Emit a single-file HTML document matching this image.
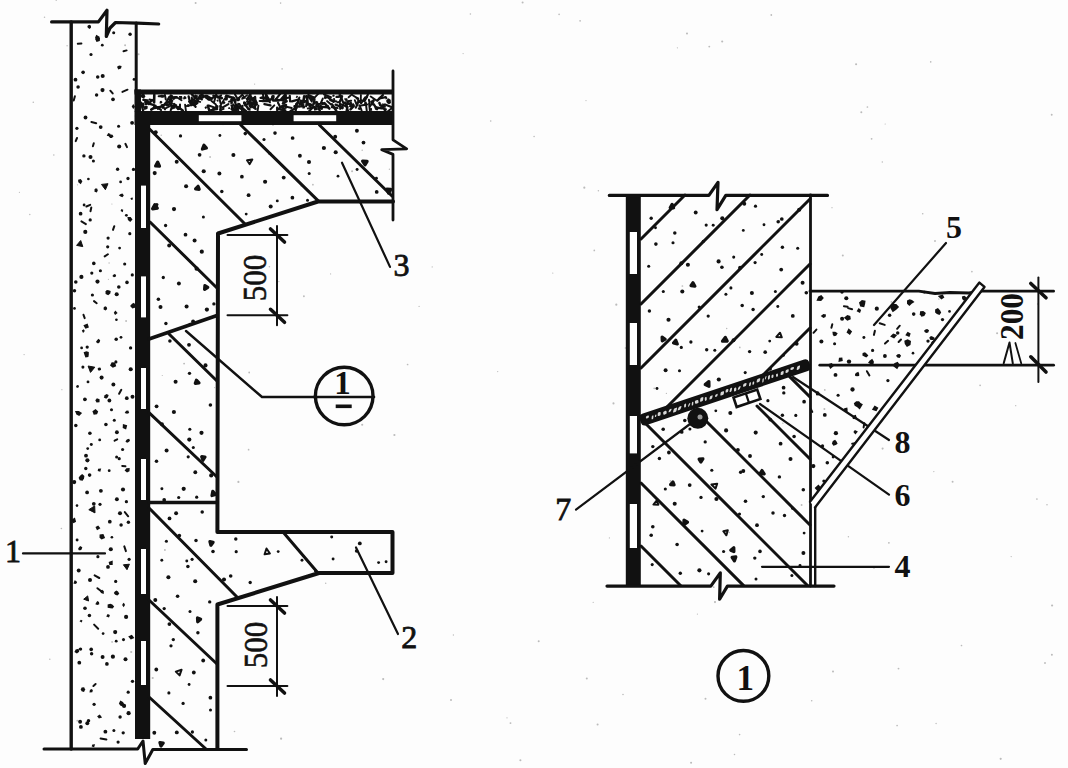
<!DOCTYPE html>
<html><head><meta charset="utf-8"><style>
html,body{margin:0;padding:0;background:#fff;}
svg{display:block;}
</style></head><body>
<svg width="1068" height="768" viewBox="0 0 1068 768">
<rect width="1068" height="768" fill="#fdfdfd"/>
<circle cx="345.9" cy="115.9" r="0.93" fill="#bbb"/>
<circle cx="77.4" cy="411.6" r="0.78" fill="#bbb"/>
<circle cx="61.9" cy="389.7" r="0.62" fill="#bbb"/>
<circle cx="463.1" cy="53.6" r="0.65" fill="#bbb"/>
<circle cx="453.4" cy="635.0" r="0.66" fill="#bbb"/>
<circle cx="238.4" cy="481.9" r="1.07" fill="#bbb"/>
<circle cx="616.3" cy="304.7" r="1.09" fill="#bbb"/>
<circle cx="49.8" cy="659.3" r="0.74" fill="#bbb"/>
<circle cx="154.1" cy="90.5" r="0.75" fill="#bbb"/>
<circle cx="871.6" cy="138.8" r="0.89" fill="#bbb"/>
<circle cx="682.4" cy="286.0" r="0.87" fill="#bbb"/>
<circle cx="67.1" cy="45.8" r="0.70" fill="#bbb"/>
<circle cx="726.7" cy="328.4" r="0.76" fill="#bbb"/>
<circle cx="625.4" cy="348.0" r="0.75" fill="#bbb"/>
<circle cx="848.4" cy="536.8" r="0.72" fill="#bbb"/>
<circle cx="613.5" cy="403.4" r="1.04" fill="#bbb"/>
<circle cx="779.0" cy="221.1" r="1.09" fill="#bbb"/>
<circle cx="126.1" cy="321.1" r="0.98" fill="#bbb"/>
<circle cx="162.3" cy="375.5" r="0.62" fill="#bbb"/>
<circle cx="713.7" cy="587.2" r="0.89" fill="#bbb"/>
<circle cx="935.0" cy="241.0" r="0.95" fill="#bbb"/>
<circle cx="634.8" cy="445.4" r="0.83" fill="#bbb"/>
<circle cx="897.1" cy="725.5" r="0.84" fill="#bbb"/>
<circle cx="709.3" cy="46.6" r="0.95" fill="#bbb"/>
<circle cx="691.1" cy="762.7" r="1.01" fill="#bbb"/>
<circle cx="303.9" cy="296.3" r="0.93" fill="#bbb"/>
<circle cx="24.1" cy="354.6" r="0.68" fill="#bbb"/>
<circle cx="125.1" cy="45.3" r="0.98" fill="#bbb"/>
<circle cx="138.1" cy="190.2" r="0.80" fill="#bbb"/>
<circle cx="930.7" cy="61.9" r="0.82" fill="#bbb"/>
<circle cx="586.8" cy="678.4" r="1.01" fill="#bbb"/>
<circle cx="922.7" cy="213.8" r="0.81" fill="#bbb"/>
<circle cx="383.2" cy="679.1" r="1.08" fill="#bbb"/>
<circle cx="161.2" cy="135.3" r="0.72" fill="#bbb"/>
<circle cx="249.2" cy="372.5" r="0.89" fill="#bbb"/>
<circle cx="280.6" cy="3.1" r="0.81" fill="#bbb"/>
<circle cx="394.4" cy="435.0" r="1.08" fill="#bbb"/>
<circle cx="737.4" cy="395.9" r="0.91" fill="#bbb"/>
<circle cx="722.2" cy="41.5" r="1.05" fill="#bbb"/>
<circle cx="833.0" cy="671.6" r="1.00" fill="#bbb"/>
<circle cx="419.1" cy="306.4" r="0.65" fill="#bbb"/>
<circle cx="677.4" cy="47.8" r="0.63" fill="#bbb"/>
<circle cx="223.0" cy="124.6" r="0.77" fill="#bbb"/>
<circle cx="56.2" cy="0.2" r="0.68" fill="#bbb"/>
<circle cx="108.4" cy="279.3" r="0.61" fill="#bbb"/>
<circle cx="933.8" cy="471.6" r="0.67" fill="#bbb"/>
<circle cx="269.4" cy="266.8" r="0.78" fill="#bbb"/>
<circle cx="131.2" cy="652.0" r="1.10" fill="#bbb"/>
<circle cx="497.7" cy="371.6" r="0.64" fill="#bbb"/>
<circle cx="109.1" cy="263.1" r="0.73" fill="#bbb"/>
<circle cx="885.2" cy="124.0" r="0.61" fill="#bbb"/>
<circle cx="1015.7" cy="405.7" r="0.67" fill="#bbb"/>
<circle cx="580.1" cy="20.8" r="0.86" fill="#bbb"/>
<circle cx="1045.0" cy="663.0" r="0.95" fill="#bbb"/>
<circle cx="278.9" cy="281.6" r="0.68" fill="#bbb"/>
<circle cx="824.4" cy="409.0" r="0.99" fill="#bbb"/>
<circle cx="352.1" cy="171.3" r="1.01" fill="#bbb"/>
<circle cx="1051.9" cy="654.8" r="1.00" fill="#bbb"/>
<circle cx="874.0" cy="568.2" r="0.71" fill="#bbb"/>
<circle cx="552.8" cy="273.1" r="0.61" fill="#bbb"/>
<circle cx="29.8" cy="214.6" r="0.73" fill="#bbb"/>
<circle cx="739.6" cy="734.6" r="0.82" fill="#bbb"/>
<circle cx="1000.7" cy="758.8" r="1.08" fill="#bbb"/>
<circle cx="389.4" cy="169.3" r="0.71" fill="#bbb"/>
<circle cx="210.1" cy="157.0" r="0.91" fill="#bbb"/>
<circle cx="961.5" cy="645.5" r="0.84" fill="#bbb"/>
<circle cx="697.4" cy="614.1" r="0.64" fill="#bbb"/>
<circle cx="705.5" cy="698.7" r="0.99" fill="#bbb"/>
<circle cx="801.2" cy="367.1" r="0.69" fill="#bbb"/>
<circle cx="842.8" cy="255.4" r="1.00" fill="#bbb"/>
<circle cx="1037.7" cy="304.0" r="0.80" fill="#bbb"/>
<circle cx="1011.2" cy="556.6" r="0.69" fill="#bbb"/>
<circle cx="135.7" cy="116.1" r="1.05" fill="#bbb"/>
<circle cx="861.3" cy="112.3" r="1.01" fill="#bbb"/>
<circle cx="1047.0" cy="504.8" r="0.78" fill="#bbb"/>
<circle cx="586.0" cy="100.6" r="0.61" fill="#bbb"/>
<circle cx="1036.9" cy="499.0" r="0.86" fill="#bbb"/>
<circle cx="997.1" cy="333.2" r="1.04" fill="#bbb"/>
<circle cx="882.3" cy="162.1" r="0.73" fill="#bbb"/>
<circle cx="312.9" cy="184.7" r="0.89" fill="#bbb"/>
<circle cx="277.0" cy="321.8" r="0.67" fill="#bbb"/>
<circle cx="971.9" cy="271.7" r="0.83" fill="#bbb"/>
<circle cx="623.0" cy="694.5" r="0.81" fill="#bbb"/>
<circle cx="980.1" cy="385.3" r="0.87" fill="#bbb"/>
<circle cx="559.1" cy="14.4" r="0.82" fill="#bbb"/>
<circle cx="195.6" cy="3.0" r="1.00" fill="#bbb"/>
<circle cx="184.1" cy="363.6" r="0.96" fill="#bbb"/>
<circle cx="594.3" cy="250.4" r="0.86" fill="#bbb"/>
<circle cx="593.2" cy="602.3" r="0.65" fill="#bbb"/>
<circle cx="598.4" cy="190.8" r="0.74" fill="#bbb"/>
<circle cx="824.8" cy="389.9" r="0.88" fill="#bbb"/>
<circle cx="811.7" cy="700.8" r="0.82" fill="#bbb"/>
<circle cx="654.2" cy="388.3" r="0.86" fill="#bbb"/>
<circle cx="739.8" cy="347.4" r="0.87" fill="#bbb"/>
<circle cx="510.5" cy="723.1" r="0.95" fill="#bbb"/>
<circle cx="936.1" cy="723.6" r="0.73" fill="#bbb"/>
<circle cx="597.6" cy="724.4" r="1.02" fill="#bbb"/>
<circle cx="146.5" cy="93.4" r="0.82" fill="#bbb"/>
<circle cx="77.5" cy="184.8" r="0.64" fill="#bbb"/>
<circle cx="715.0" cy="602.1" r="1.05" fill="#bbb"/>
<circle cx="164.9" cy="550.0" r="0.93" fill="#bbb"/>
<circle cx="152.7" cy="678.0" r="1.08" fill="#bbb"/>
<circle cx="234.5" cy="731.5" r="0.80" fill="#bbb"/>
<circle cx="520.4" cy="760.2" r="1.02" fill="#bbb"/>
<circle cx="172.4" cy="331.4" r="0.86" fill="#bbb"/>
<circle cx="362.2" cy="150.3" r="0.76" fill="#bbb"/>
<circle cx="771.3" cy="15.0" r="0.88" fill="#bbb"/>
<circle cx="470.4" cy="13.9" r="0.77" fill="#bbb"/>
<circle cx="666.4" cy="393.4" r="0.63" fill="#bbb"/>
<circle cx="1052.1" cy="605.5" r="1.09" fill="#bbb"/>
<circle cx="111.9" cy="204.0" r="0.62" fill="#bbb"/>
<circle cx="832.0" cy="207.7" r="0.66" fill="#bbb"/>
<circle cx="451.0" cy="700.0" r="1.01" fill="#bbb"/>
<circle cx="276.2" cy="114.7" r="1.06" fill="#bbb"/>
<circle cx="609.4" cy="537.9" r="0.64" fill="#bbb"/>
<circle cx="61.4" cy="528.5" r="0.81" fill="#bbb"/>
<circle cx="77.3" cy="720.7" r="0.92" fill="#bbb"/>
<circle cx="856.1" cy="64.3" r="1.03" fill="#bbb"/>
<circle cx="71.2" cy="662.6" r="0.83" fill="#bbb"/>
<circle cx="362.2" cy="424.8" r="1.06" fill="#bbb"/>
<circle cx="286.1" cy="99.2" r="0.86" fill="#bbb"/>
<circle cx="254.6" cy="84.1" r="0.68" fill="#bbb"/>
<circle cx="53.8" cy="155.0" r="0.76" fill="#bbb"/>
<circle cx="325.7" cy="583.3" r="0.74" fill="#bbb"/>
<circle cx="534.1" cy="136.6" r="0.77" fill="#bbb"/>
<circle cx="19.4" cy="192.3" r="0.61" fill="#bbb"/>
<circle cx="782.9" cy="423.2" r="0.69" fill="#bbb"/>
<circle cx="507.0" cy="717.8" r="0.65" fill="#bbb"/>
<circle cx="874.6" cy="331.9" r="0.85" fill="#bbb"/>
<circle cx="891.4" cy="301.9" r="0.85" fill="#bbb"/>
<circle cx="734.5" cy="754.5" r="0.77" fill="#bbb"/>
<circle cx="888.9" cy="542.8" r="0.92" fill="#bbb"/>
<circle cx="432.2" cy="266.9" r="0.63" fill="#bbb"/>
<circle cx="138.6" cy="54.3" r="0.97" fill="#bbb"/>
<circle cx="273.0" cy="125.4" r="0.64" fill="#bbb"/>
<circle cx="898.5" cy="668.6" r="0.94" fill="#bbb"/>
<circle cx="301.1" cy="186.0" r="0.75" fill="#bbb"/>
<circle cx="490.7" cy="121.0" r="0.82" fill="#bbb"/>
<circle cx="281.1" cy="738.7" r="1.09" fill="#bbb"/>
<circle cx="584.3" cy="187.7" r="1.08" fill="#bbb"/>
<circle cx="330.6" cy="273.9" r="0.60" fill="#bbb"/>
<circle cx="407.6" cy="364.5" r="0.85" fill="#bbb"/>
<circle cx="214.6" cy="387.6" r="0.60" fill="#bbb"/>
<circle cx="282.1" cy="68.9" r="0.80" fill="#bbb"/>
<circle cx="44.5" cy="17.3" r="0.75" fill="#bbb"/>
<circle cx="248.6" cy="449.7" r="0.86" fill="#bbb"/>
<circle cx="801.6" cy="505.0" r="0.96" fill="#bbb"/>
<circle cx="938.9" cy="299.1" r="0.76" fill="#bbb"/>
<circle cx="1051.7" cy="114.8" r="0.96" fill="#bbb"/>
<circle cx="687.0" cy="33.6" r="1.02" fill="#bbb"/>
<circle cx="952.6" cy="481.8" r="0.97" fill="#bbb"/>
<circle cx="867.4" cy="107.0" r="0.86" fill="#bbb"/>
<circle cx="538.7" cy="641.2" r="1.00" fill="#bbb"/>
<circle cx="882.6" cy="448.6" r="1.05" fill="#bbb"/>
<circle cx="729.3" cy="532.5" r="0.71" fill="#bbb"/>
<circle cx="33.3" cy="102.2" r="0.78" fill="#bbb"/>
<circle cx="112.1" cy="641.9" r="0.88" fill="#bbb"/>
<circle cx="670.5" cy="480.9" r="0.94" fill="#bbb"/>
<circle cx="522.6" cy="2.5" r="1.00" fill="#bbb"/>
<circle cx="799.1" cy="386.3" r="0.87" fill="#bbb"/>
<path d="M87.3,27.0 L87.8,25.5 L89.4,24.8 L91.0,25.8 L90.9,27.7 L89.6,28.9 L88.2,28.0 Z" fill="#111"/>
<circle cx="113.7" cy="32.8" r="1.52" fill="#111"/>
<circle cx="130.1" cy="34.3" r="1.71" fill="#111"/>
<line x1="81.4" y1="43.5" x2="77.8" y2="43.7" stroke="#111" stroke-width="2.0" stroke-linecap="round"/>
<path d="M100.0,38.1 L99.8,41.1 L96.5,42.0 L95.3,39.2 L95.2,37.3 L96.3,34.8 L98.7,36.2 Z" fill="#111"/>
<circle cx="102.3" cy="45.2" r="1.39" fill="#111"/>
<circle cx="91.0" cy="54.5" r="1.56" fill="#111"/>
<line x1="126.6" y1="50.4" x2="123.5" y2="51.2" stroke="#111" stroke-width="2.0" stroke-linecap="round"/>
<circle cx="83.1" cy="72.3" r="1.83" fill="#111"/>
<path d="M119.1,65.6 L121.6,65.9 L121.0,68.6 L118.3,69.5 L117.0,66.8 Z" fill="#111"/>
<circle cx="75.5" cy="79.7" r="1.89" fill="#111"/>
<circle cx="97.7" cy="77.1" r="1.75" fill="#111"/>
<circle cx="102.7" cy="76.0" r="2.02" fill="#111"/>
<circle cx="134.0" cy="79.4" r="1.37" fill="#111"/>
<circle cx="78.1" cy="87.1" r="1.76" fill="#111"/>
<circle cx="96.6" cy="95.0" r="1.72" fill="#111"/>
<circle cx="102.5" cy="90.1" r="2.07" fill="#111"/>
<line x1="110.3" y1="90.7" x2="112.7" y2="93.4" stroke="#111" stroke-width="2.0" stroke-linecap="round"/>
<line x1="127.5" y1="89.7" x2="122.4" y2="91.9" stroke="#111" stroke-width="2.0" stroke-linecap="round"/>
<line x1="74.9" y1="96.3" x2="73.7" y2="100.5" stroke="#111" stroke-width="2.0" stroke-linecap="round"/>
<circle cx="113.0" cy="99.3" r="1.85" fill="#111"/>
<path d="M135.0,106.7 L133.3,109.0 L131.7,106.6 L133.3,104.1 Z" fill="#111"/>
<circle cx="85.5" cy="117.5" r="1.91" fill="#111"/>
<circle cx="76.9" cy="128.3" r="1.63" fill="#111"/>
<line x1="91.4" y1="122.0" x2="96.2" y2="123.3" stroke="#111" stroke-width="2.0" stroke-linecap="round"/>
<circle cx="100.7" cy="127.1" r="1.86" fill="#111"/>
<circle cx="118.6" cy="126.3" r="1.53" fill="#111"/>
<circle cx="132.1" cy="122.8" r="1.91" fill="#111"/>
<line x1="77.0" y1="138.0" x2="75.7" y2="141.1" stroke="#111" stroke-width="2.0" stroke-linecap="round"/>
<line x1="93.8" y1="143.2" x2="92.9" y2="146.3" stroke="#111" stroke-width="2.0" stroke-linecap="round"/>
<path d="M109.9,136.6 L106.7,135.7 L108.3,132.9 L110.6,134.0 Z" fill="#111"/>
<path d="M113.5,136.5 L111.9,137.9 L110.1,138.0 L108.9,136.5 L109.5,134.9 L110.9,134.4 L112.5,134.7 Z" fill="#111"/>
<line x1="125.4" y1="143.8" x2="127.0" y2="147.1" stroke="#111" stroke-width="2.0" stroke-linecap="round"/>
<circle cx="83.9" cy="155.9" r="1.68" fill="#111"/>
<circle cx="90.5" cy="157.0" r="2.02" fill="#111"/>
<circle cx="119.2" cy="146.5" r="2.04" fill="#111"/>
<circle cx="93.4" cy="161.1" r="1.52" fill="#111"/>
<circle cx="117.6" cy="169.3" r="1.68" fill="#111"/>
<circle cx="133.5" cy="169.4" r="1.64" fill="#111"/>
<path d="M78.1,179.7 L80.7,178.9 L82.4,181.2 L80.8,184.2 L78.3,182.2 Z" fill="#111"/>
<circle cx="88.4" cy="179.0" r="1.33" fill="#111"/>
<circle cx="120.6" cy="181.9" r="1.38" fill="#111"/>
<circle cx="128.0" cy="178.5" r="1.63" fill="#111"/>
<path d="M94.5,191.7 L94.6,189.6 L95.7,188.3 L97.3,188.8 L97.7,190.4 L96.9,192.4 Z" fill="#111"/>
<path d="M105.4,189.7 L101.5,184.4 L108.0,183.7 Z" fill="#111" stroke="#111" stroke-width="1" stroke-linejoin="round"/>
<circle cx="84.1" cy="205.0" r="1.40" fill="#111"/>
<line x1="90.2" y1="204.8" x2="86.4" y2="206.5" stroke="#111" stroke-width="2.0" stroke-linecap="round"/>
<path d="M120.6,196.4 L118.8,195.2 L120.7,194.1 L122.5,193.4 L123.8,195.4 L122.4,197.3 Z" fill="#111"/>
<path d="M132.3,197.2 L133.0,199.2 L131.5,200.1 L130.3,198.5 Z" fill="#111"/>
<circle cx="80.6" cy="213.7" r="1.86" fill="#111"/>
<line x1="91.3" y1="207.5" x2="90.5" y2="211.3" stroke="#111" stroke-width="2.0" stroke-linecap="round"/>
<path d="M120.6,211.0 L121.4,209.1 L123.2,209.8 L122.8,212.2 Z" fill="#111"/>
<circle cx="126.4" cy="215.3" r="1.41" fill="#111"/>
<line x1="81.4" y1="221.4" x2="85.9" y2="224.1" stroke="#111" stroke-width="2.0" stroke-linecap="round"/>
<circle cx="90.2" cy="219.9" r="1.61" fill="#111"/>
<line x1="114.3" y1="226.2" x2="113.0" y2="229.9" stroke="#111" stroke-width="2.0" stroke-linecap="round"/>
<path d="M127.4,216.9 L130.6,216.9 L132.5,219.4 L130.2,222.0 L127.9,220.0 Z" fill="#111"/>
<circle cx="85.3" cy="231.9" r="2.08" fill="#111"/>
<circle cx="108.1" cy="238.1" r="1.61" fill="#111"/>
<circle cx="129.8" cy="233.7" r="1.59" fill="#111"/>
<path d="M76.6,245.4 L80.7,240.5 L82.8,246.6 Z" fill="#111" stroke="#111" stroke-width="1" stroke-linejoin="round"/>
<circle cx="107.7" cy="246.8" r="1.59" fill="#111"/>
<circle cx="119.6" cy="248.1" r="1.40" fill="#111"/>
<circle cx="93.8" cy="263.4" r="1.79" fill="#111"/>
<line x1="107.9" y1="254.2" x2="104.7" y2="256.4" stroke="#111" stroke-width="2.0" stroke-linecap="round"/>
<circle cx="124.7" cy="264.0" r="1.56" fill="#111"/>
<circle cx="81.4" cy="276.9" r="2.07" fill="#111"/>
<circle cx="91.8" cy="273.1" r="1.60" fill="#111"/>
<circle cx="100.4" cy="270.8" r="1.56" fill="#111"/>
<path d="M116.1,275.2 L115.7,276.8 L113.9,277.3 L112.4,276.0 L113.6,274.5 L115.0,273.9 Z" fill="#111"/>
<circle cx="132.3" cy="274.9" r="1.60" fill="#111"/>
<circle cx="75.8" cy="282.0" r="1.79" fill="#111"/>
<circle cx="97.5" cy="281.6" r="2.07" fill="#111"/>
<circle cx="118.8" cy="287.0" r="1.80" fill="#111"/>
<circle cx="127.0" cy="282.4" r="1.79" fill="#111"/>
<circle cx="74.5" cy="290.7" r="1.72" fill="#111"/>
<circle cx="92.4" cy="295.0" r="1.59" fill="#111"/>
<path d="M110.3,293.5 L108.2,295.2 L105.6,294.0 L105.5,291.5 L106.8,290.0 L108.6,290.2 L110.7,291.1 Z" fill="#111"/>
<circle cx="116.7" cy="294.2" r="2.05" fill="#111"/>
<circle cx="74.5" cy="308.4" r="1.35" fill="#111"/>
<line x1="94.0" y1="301.1" x2="96.7" y2="303.2" stroke="#111" stroke-width="2.0" stroke-linecap="round"/>
<path d="M107.2,308.9 L105.6,310.6 L103.6,309.4 L103.6,307.4 L105.1,306.2 L106.7,307.0 Z" fill="#111"/>
<path d="M115.1,315.0 L113.8,312.8 L115.4,310.6 L117.6,313.1 Z" fill="#111"/>
<path d="M132.4,308.4 L130.1,305.9 L132.0,303.8 L134.0,302.7 L135.3,304.7 L135.6,307.5 Z" fill="#111"/>
<line x1="83.5" y1="314.8" x2="84.7" y2="318.1" stroke="#111" stroke-width="2.0" stroke-linecap="round"/>
<circle cx="116.4" cy="319.7" r="1.32" fill="#111"/>
<path d="M84.8,330.9 L83.1,333.1 L81.8,330.4 L83.7,329.3 Z" fill="#111"/>
<path d="M88.9,327.6 L85.4,328.7 L83.4,325.2 L87.6,323.6 Z" fill="#111"/>
<circle cx="121.0" cy="337.3" r="1.39" fill="#111"/>
<circle cx="81.6" cy="347.9" r="1.38" fill="#111"/>
<circle cx="87.2" cy="347.1" r="1.64" fill="#111"/>
<path d="M98.5,338.8 L100.2,340.2 L99.7,342.2 L98.0,343.6 L95.9,342.1 L97.1,340.2 Z" fill="#111"/>
<circle cx="116.2" cy="339.2" r="1.75" fill="#111"/>
<circle cx="130.6" cy="347.9" r="1.65" fill="#111"/>
<path d="M83.6,352.2 L86.4,351.3 L88.8,352.1 L88.8,354.5 L88.4,357.1 L85.4,357.6 L84.5,354.9 Z" fill="#111"/>
<circle cx="115.9" cy="361.9" r="1.56" fill="#111"/>
<circle cx="82.9" cy="367.1" r="1.54" fill="#111"/>
<path d="M94.8,367.2 L90.5,372.4 L88.1,366.0 Z" fill="#111" stroke="#111" stroke-width="1" stroke-linejoin="round"/>
<path d="M97.5,368.8 L98.9,367.6 L100.6,367.8 L101.0,369.3 L100.1,370.6 L98.4,370.6 Z" fill="#111"/>
<path d="M112.8,367.8 L110.0,365.4 L111.7,362.3 L115.1,362.5 L116.2,366.2 Z" fill="#111"/>
<circle cx="130.7" cy="369.2" r="2.06" fill="#111"/>
<circle cx="88.0" cy="381.9" r="1.42" fill="#111"/>
<circle cx="101.6" cy="377.6" r="2.03" fill="#111"/>
<circle cx="113.4" cy="384.6" r="1.98" fill="#111"/>
<path d="M78.9,385.4 L78.9,387.3 L76.9,388.0 L76.0,386.2 L77.2,385.0 Z" fill="#111"/>
<path d="M106.2,398.8 L103.8,397.5 L104.8,395.2 L106.5,394.1 L108.7,395.1 L107.9,397.2 Z" fill="#111"/>
<line x1="121.3" y1="389.8" x2="119.1" y2="393.8" stroke="#111" stroke-width="2.0" stroke-linecap="round"/>
<circle cx="132.5" cy="396.7" r="1.97" fill="#111"/>
<circle cx="84.9" cy="399.3" r="1.87" fill="#111"/>
<path d="M96.9,398.2 L99.6,399.2 L99.5,402.3 L96.5,402.5 L95.3,400.2 Z" fill="#111"/>
<circle cx="109.4" cy="400.5" r="1.91" fill="#111"/>
<circle cx="111.5" cy="409.8" r="1.52" fill="#111"/>
<circle cx="126.8" cy="398.2" r="1.86" fill="#111"/>
<path d="M82.1,413.0 L79.2,415.9 L76.4,414.6 L75.0,411.1 L78.8,411.1 Z" fill="#111"/>
<path d="M93.7,414.8 L92.4,411.2 L95.6,408.9 L98.2,411.5 L97.0,414.3 Z" fill="#111"/>
<circle cx="114.3" cy="420.2" r="1.50" fill="#111"/>
<path d="M126.1,410.8 L128.3,410.6 L129.2,413.0 L127.1,413.7 L124.7,413.0 Z" fill="#111"/>
<circle cx="75.8" cy="425.6" r="1.75" fill="#111"/>
<circle cx="89.9" cy="433.3" r="1.77" fill="#111"/>
<circle cx="105.9" cy="424.5" r="1.79" fill="#111"/>
<circle cx="116.9" cy="432.3" r="1.93" fill="#111"/>
<path d="M122.9,424.0 L127.2,425.3 L126.1,429.6 L122.7,427.9 Z" fill="#111"/>
<circle cx="91.3" cy="444.6" r="1.49" fill="#111"/>
<circle cx="99.7" cy="439.9" r="1.42" fill="#111"/>
<line x1="117.2" y1="439.3" x2="114.6" y2="440.7" stroke="#111" stroke-width="2.0" stroke-linecap="round"/>
<path d="M130.0,440.7 L128.7,442.1 L127.2,442.7 L125.5,441.8 L126.3,440.1 L127.3,439.3 L129.2,438.8 Z" fill="#111"/>
<circle cx="86.0" cy="455.7" r="1.91" fill="#111"/>
<circle cx="87.7" cy="448.6" r="1.38" fill="#111"/>
<circle cx="116.6" cy="456.9" r="1.50" fill="#111"/>
<circle cx="122.6" cy="449.5" r="1.57" fill="#111"/>
<circle cx="85.8" cy="468.5" r="1.69" fill="#111"/>
<circle cx="87.4" cy="460.3" r="2.08" fill="#111"/>
<path d="M97.7,470.9 L98.1,468.7 L101.2,468.4 L100.3,471.7 Z" fill="#111"/>
<circle cx="119.2" cy="458.7" r="1.60" fill="#111"/>
<line x1="122.2" y1="465.9" x2="125.4" y2="466.3" stroke="#111" stroke-width="2.0" stroke-linecap="round"/>
<path d="M82.2,473.9 L84.4,475.9 L84.0,478.5 L82.6,480.8 L79.7,480.3 L78.6,477.7 L80.0,475.7 Z" fill="#111"/>
<circle cx="89.6" cy="475.1" r="1.81" fill="#111"/>
<circle cx="109.2" cy="470.7" r="1.40" fill="#111"/>
<path d="M124.6,470.6 L126.4,468.2 L129.7,467.9 L129.5,471.3 L127.0,472.4 Z" fill="#111"/>
<circle cx="74.2" cy="482.1" r="2.07" fill="#111"/>
<circle cx="87.1" cy="492.4" r="1.88" fill="#111"/>
<circle cx="100.9" cy="490.8" r="1.92" fill="#111"/>
<circle cx="123.0" cy="489.5" r="2.05" fill="#111"/>
<circle cx="77.0" cy="505.6" r="1.31" fill="#111"/>
<circle cx="93.8" cy="503.8" r="1.88" fill="#111"/>
<circle cx="100.0" cy="504.3" r="1.59" fill="#111"/>
<circle cx="116.9" cy="499.3" r="1.94" fill="#111"/>
<circle cx="126.4" cy="501.7" r="1.61" fill="#111"/>
<path d="M94.7,505.9 L95.0,512.9 L88.8,509.7 Z" fill="#111" stroke="#111" stroke-width="1" stroke-linejoin="round"/>
<circle cx="120.0" cy="513.2" r="2.01" fill="#111"/>
<line x1="124.8" y1="512.1" x2="128.2" y2="516.3" stroke="#111" stroke-width="2.0" stroke-linecap="round"/>
<path d="M73.5,523.2 L70.6,520.3 L74.9,517.6 L76.1,521.7 Z" fill="#111"/>
<path d="M95.5,527.0 L98.2,525.5 L100.4,528.3 L97.0,530.2 Z" fill="#111"/>
<circle cx="109.8" cy="521.7" r="1.87" fill="#111"/>
<circle cx="121.1" cy="525.0" r="1.73" fill="#111"/>
<circle cx="128.4" cy="522.3" r="1.72" fill="#111"/>
<circle cx="77.1" cy="540.0" r="1.46" fill="#111"/>
<path d="M105.1,538.0 L101.6,539.5 L99.5,537.7 L99.6,534.5 L103.4,534.1 Z" fill="#111"/>
<circle cx="111.9" cy="537.2" r="1.32" fill="#111"/>
<path d="M80.1,546.1 L82.3,547.2 L81.6,549.4 L80.4,550.3 L78.9,550.3 L78.1,549.0 L78.7,547.7 Z" fill="#111"/>
<circle cx="110.8" cy="549.2" r="2.07" fill="#111"/>
<line x1="124.3" y1="546.4" x2="125.9" y2="551.1" stroke="#111" stroke-width="2.0" stroke-linecap="round"/>
<circle cx="97.9" cy="556.7" r="1.58" fill="#111"/>
<path d="M112.7,565.0 L109.4,565.1 L108.6,562.0 L112.7,560.6 Z" fill="#111"/>
<circle cx="129.1" cy="559.3" r="1.60" fill="#111"/>
<circle cx="78.7" cy="570.5" r="1.95" fill="#111"/>
<line x1="94.6" y1="575.4" x2="99.3" y2="578.0" stroke="#111" stroke-width="2.0" stroke-linecap="round"/>
<circle cx="108.0" cy="566.9" r="1.90" fill="#111"/>
<path d="M127.0,569.7 L123.4,564.8 L129.4,564.2 Z" fill="#111" stroke="#111" stroke-width="1" stroke-linejoin="round"/>
<path d="M74.0,581.9 L74.6,580.2 L76.2,581.0 L77.1,582.2 L76.4,583.4 L75.2,584.0 L73.4,583.6 Z" fill="#111"/>
<circle cx="90.0" cy="580.0" r="2.02" fill="#111"/>
<line x1="97.4" y1="588.2" x2="101.3" y2="591.3" stroke="#111" stroke-width="2.0" stroke-linecap="round"/>
<circle cx="115.7" cy="581.4" r="1.59" fill="#111"/>
<path d="M87.7,595.9 L88.6,601.0 L83.7,599.2 Z" fill="#111" stroke="#111" stroke-width="1" stroke-linejoin="round"/>
<path d="M101.0,593.0 L100.0,590.9 L102.2,589.7 L103.9,591.2 L103.7,594.1 Z" fill="#111"/>
<path d="M116.4,590.6 L118.0,591.6 L119.3,593.7 L117.4,595.6 L115.2,594.7 L113.8,593.1 L114.9,591.5 Z" fill="#111"/>
<circle cx="85.0" cy="608.2" r="1.81" fill="#111"/>
<path d="M97.4,605.0 L95.3,604.3 L96.3,602.5 L97.3,601.0 L99.0,602.1 L99.3,604.2 Z" fill="#111"/>
<path d="M107.6,604.6 L110.4,603.8 L112.3,604.6 L114.2,606.4 L112.6,608.5 L110.4,608.2 L107.6,607.7 Z" fill="#111"/>
<path d="M123.6,607.2 L122.5,605.6 L122.4,604.2 L123.6,602.8 L124.9,604.2 L124.7,605.6 Z" fill="#111"/>
<path d="M80.9,619.7 L82.5,620.6 L81.6,622.6 L79.5,621.3 Z" fill="#111"/>
<circle cx="89.4" cy="615.5" r="1.77" fill="#111"/>
<path d="M109.9,615.1 L109.0,617.4 L106.2,616.6 L107.6,614.0 Z" fill="#111"/>
<circle cx="126.1" cy="616.9" r="2.08" fill="#111"/>
<line x1="94.1" y1="624.6" x2="98.2" y2="628.7" stroke="#111" stroke-width="2.0" stroke-linecap="round"/>
<circle cx="103.1" cy="633.6" r="1.36" fill="#111"/>
<circle cx="115.2" cy="632.1" r="2.08" fill="#111"/>
<path d="M134.4,637.9 L130.8,639.6 L128.2,636.5 L131.8,634.8 Z" fill="#111"/>
<circle cx="80.5" cy="649.1" r="1.72" fill="#111"/>
<circle cx="91.2" cy="649.4" r="1.82" fill="#111"/>
<circle cx="116.2" cy="641.2" r="1.42" fill="#111"/>
<circle cx="123.5" cy="639.6" r="1.53" fill="#111"/>
<path d="M75.7,649.4 L78.6,648.7 L79.2,651.8 L76.9,653.6 L74.4,651.9 Z" fill="#111"/>
<circle cx="91.6" cy="653.7" r="1.71" fill="#111"/>
<circle cx="102.6" cy="657.0" r="1.99" fill="#111"/>
<circle cx="112.9" cy="656.7" r="2.09" fill="#111"/>
<circle cx="125.5" cy="659.3" r="2.00" fill="#111"/>
<circle cx="79.3" cy="662.7" r="1.89" fill="#111"/>
<circle cx="106.9" cy="663.9" r="1.84" fill="#111"/>
<line x1="95.6" y1="684.0" x2="93.4" y2="686.0" stroke="#111" stroke-width="2.0" stroke-linecap="round"/>
<circle cx="132.5" cy="681.3" r="1.67" fill="#111"/>
<path d="M85.2,689.6 L84.0,692.1 L81.6,691.2 L80.8,689.4 L81.6,687.5 L84.1,687.3 Z" fill="#111"/>
<path d="M92.9,690.1 L92.3,692.2 L89.5,692.6 L89.9,690.0 L91.3,689.1 Z" fill="#111"/>
<circle cx="128.2" cy="692.2" r="1.59" fill="#111"/>
<circle cx="94.1" cy="704.3" r="1.62" fill="#111"/>
<path d="M120.3,700.5 L123.0,702.1 L124.3,704.3 L122.6,706.4 L120.2,705.5 L118.9,703.4 Z" fill="#111"/>
<circle cx="124.1" cy="705.9" r="2.05" fill="#111"/>
<circle cx="80.1" cy="721.7" r="1.95" fill="#111"/>
<circle cx="88.5" cy="720.7" r="1.75" fill="#111"/>
<path d="M99.8,714.6 L102.1,717.5 L98.9,718.5 L97.1,716.3 Z" fill="#111"/>
<circle cx="120.1" cy="717.0" r="1.70" fill="#111"/>
<circle cx="128.6" cy="713.2" r="2.10" fill="#111"/>
<circle cx="80.9" cy="726.9" r="1.91" fill="#111"/>
<circle cx="87.3" cy="723.2" r="1.96" fill="#111"/>
<circle cx="105.4" cy="731.7" r="1.92" fill="#111"/>
<circle cx="113.9" cy="730.6" r="1.51" fill="#111"/>
<circle cx="123.2" cy="732.8" r="1.66" fill="#111"/>
<path d="M94.1,747.3 L91.7,746.4 L92.3,744.4 L95.1,744.2 Z" fill="#111"/>
<line x1="100.6" y1="738.4" x2="106.4" y2="739.6" stroke="#111" stroke-width="2.0" stroke-linecap="round"/>
<circle cx="118.1" cy="742.1" r="1.62" fill="#111"/>
<circle cx="155.7" cy="132.2" r="2.02" fill="#111"/>
<circle cx="180.5" cy="135.9" r="1.64" fill="#111"/>
<path d="M202.4,149.0 L204.0,145.2 L206.4,148.0 Z" fill="#111" stroke="#111" stroke-width="3.2" stroke-linejoin="round"/>
<circle cx="219.9" cy="135.5" r="1.42" fill="#111"/>
<circle cx="245.3" cy="133.6" r="1.78" fill="#111"/>
<circle cx="264.0" cy="139.5" r="1.57" fill="#111"/>
<circle cx="275.0" cy="133.1" r="1.81" fill="#111"/>
<circle cx="292.6" cy="138.0" r="1.87" fill="#111"/>
<circle cx="323.9" cy="148.0" r="2.09" fill="#111"/>
<circle cx="335.2" cy="136.7" r="1.93" fill="#111"/>
<circle cx="356.9" cy="130.7" r="1.94" fill="#111"/>
<circle cx="363.5" cy="142.6" r="1.90" fill="#111"/>
<path d="M157.7,162.1 L159.5,166.2 L155.6,166.0 Z" fill="#111" stroke="#111" stroke-width="3.2" stroke-linejoin="round"/>
<circle cx="176.7" cy="161.7" r="1.97" fill="#111"/>
<circle cx="199.6" cy="154.8" r="1.84" fill="#111"/>
<circle cx="233.4" cy="155.0" r="2.03" fill="#111"/>
<path d="M252.3,159.5 L249.7,164.1 L247.0,160.2 Z" fill="none" stroke="#111" stroke-width="2.0" stroke-linejoin="round"/>
<circle cx="269.9" cy="153.5" r="1.55" fill="#111"/>
<circle cx="299.9" cy="155.7" r="1.93" fill="#111"/>
<circle cx="309.0" cy="162.0" r="2.06" fill="#111"/>
<circle cx="335.7" cy="152.3" r="2.05" fill="#111"/>
<path d="M362.6,161.0 L367.1,161.4 L365.1,164.8 Z" fill="#111" stroke="#111" stroke-width="3.2" stroke-linejoin="round"/>
<circle cx="154.7" cy="173.1" r="2.04" fill="#111"/>
<circle cx="203.7" cy="171.2" r="2.06" fill="#111"/>
<circle cx="219.4" cy="173.5" r="1.99" fill="#111"/>
<circle cx="241.9" cy="176.7" r="1.87" fill="#111"/>
<circle cx="265.1" cy="181.8" r="2.07" fill="#111"/>
<circle cx="283.7" cy="177.6" r="1.95" fill="#111"/>
<circle cx="309.2" cy="173.6" r="1.50" fill="#111"/>
<circle cx="338.0" cy="176.2" r="1.40" fill="#111"/>
<circle cx="357.1" cy="169.5" r="1.49" fill="#111"/>
<circle cx="376.4" cy="178.2" r="1.48" fill="#111"/>
<circle cx="156.9" cy="204.6" r="1.54" fill="#111"/>
<circle cx="186.1" cy="186.2" r="2.03" fill="#111"/>
<path d="M195.6,188.9 L198.1,186.3 L199.2,189.3 Z" fill="#111" stroke="#111" stroke-width="3.2" stroke-linejoin="round"/>
<circle cx="221.8" cy="191.5" r="1.73" fill="#111"/>
<circle cx="248.6" cy="195.2" r="1.92" fill="#111"/>
<circle cx="277.3" cy="200.9" r="1.46" fill="#111"/>
<circle cx="292.4" cy="197.7" r="1.86" fill="#111"/>
<circle cx="307.5" cy="200.2" r="1.50" fill="#111"/>
<circle cx="376.7" cy="191.9" r="1.85" fill="#111"/>
<path d="M388.7,193.2 L386.8,189.2 L390.8,189.3 Z" fill="#111" stroke="#111" stroke-width="3.2" stroke-linejoin="round"/>
<path d="M152.6,208.8 L154.9,204.6 L157.3,208.1 Z" fill="#111" stroke="#111" stroke-width="3.2" stroke-linejoin="round"/>
<circle cx="174.0" cy="209.1" r="2.10" fill="#111"/>
<circle cx="203.4" cy="216.9" r="1.50" fill="#111"/>
<circle cx="246.2" cy="214.1" r="1.42" fill="#111"/>
<circle cx="270.7" cy="206.4" r="2.02" fill="#111"/>
<circle cx="165.6" cy="225.5" r="1.63" fill="#111"/>
<circle cx="185.5" cy="234.7" r="1.86" fill="#111"/>
<circle cx="194.6" cy="240.4" r="1.99" fill="#111"/>
<circle cx="169.2" cy="245.6" r="1.99" fill="#111"/>
<circle cx="201.8" cy="251.7" r="2.08" fill="#111"/>
<circle cx="163.3" cy="277.5" r="1.63" fill="#111"/>
<circle cx="196.6" cy="268.7" r="2.09" fill="#111"/>
<circle cx="158.4" cy="299.2" r="1.77" fill="#111"/>
<circle cx="178.9" cy="283.5" r="1.97" fill="#111"/>
<path d="M204.6,289.4 L204.9,285.6 L207.8,287.3 Z" fill="#111" stroke="#111" stroke-width="3.2" stroke-linejoin="round"/>
<circle cx="160.5" cy="306.9" r="2.01" fill="#111"/>
<circle cx="186.6" cy="306.4" r="2.02" fill="#111"/>
<circle cx="206.9" cy="309.6" r="2.10" fill="#111"/>
<circle cx="213.9" cy="303.9" r="1.68" fill="#111"/>
<circle cx="165.9" cy="323.5" r="1.71" fill="#111"/>
<circle cx="190.0" cy="324.4" r="1.57" fill="#111"/>
<circle cx="193.1" cy="321.5" r="1.97" fill="#111"/>
<circle cx="169.9" cy="341.0" r="1.77" fill="#111"/>
<circle cx="189.0" cy="344.8" r="1.88" fill="#111"/>
<circle cx="189.5" cy="373.3" r="1.65" fill="#111"/>
<circle cx="205.5" cy="365.4" r="2.04" fill="#111"/>
<circle cx="175.6" cy="381.7" r="2.01" fill="#111"/>
<path d="M199.0,382.8 L195.3,383.3 L196.4,380.2 Z" fill="#111" stroke="#111" stroke-width="3.2" stroke-linejoin="round"/>
<circle cx="156.6" cy="406.3" r="1.91" fill="#111"/>
<circle cx="173.9" cy="412.0" r="2.07" fill="#111"/>
<circle cx="210.4" cy="405.0" r="1.78" fill="#111"/>
<circle cx="162.0" cy="424.3" r="1.93" fill="#111"/>
<circle cx="189.8" cy="429.3" r="1.57" fill="#111"/>
<circle cx="201.5" cy="432.8" r="2.09" fill="#111"/>
<circle cx="166.6" cy="450.6" r="1.99" fill="#111"/>
<circle cx="189.3" cy="439.6" r="2.10" fill="#111"/>
<circle cx="193.3" cy="447.4" r="1.52" fill="#111"/>
<circle cx="156.5" cy="461.3" r="1.77" fill="#111"/>
<circle cx="188.2" cy="456.8" r="1.58" fill="#111"/>
<path d="M203.0,460.2 L201.7,456.7 L205.0,457.0 Z" fill="#111" stroke="#111" stroke-width="3.2" stroke-linejoin="round"/>
<circle cx="161.9" cy="488.8" r="1.48" fill="#111"/>
<circle cx="183.7" cy="488.8" r="2.10" fill="#111"/>
<circle cx="195.3" cy="472.2" r="1.93" fill="#111"/>
<circle cx="211.2" cy="475.4" r="2.05" fill="#111"/>
<circle cx="164.2" cy="499.9" r="1.86" fill="#111"/>
<circle cx="178.7" cy="497.5" r="1.61" fill="#111"/>
<circle cx="196.7" cy="497.2" r="1.61" fill="#111"/>
<path d="M212.8,491.3 L215.6,494.5 L212.0,495.5 Z" fill="#111" stroke="#111" stroke-width="3.2" stroke-linejoin="round"/>
<circle cx="169.5" cy="518.4" r="1.92" fill="#111"/>
<circle cx="176.1" cy="513.2" r="1.96" fill="#111"/>
<circle cx="202.2" cy="512.0" r="1.76" fill="#111"/>
<circle cx="166.4" cy="541.2" r="1.53" fill="#111"/>
<circle cx="179.3" cy="535.6" r="1.86" fill="#111"/>
<circle cx="196.0" cy="540.5" r="1.74" fill="#111"/>
<path d="M210.9,545.2 L209.9,541.6 L213.1,542.2 Z" fill="#111" stroke="#111" stroke-width="3.2" stroke-linejoin="round"/>
<circle cx="235.8" cy="539.1" r="1.73" fill="#111"/>
<circle cx="331.7" cy="537.1" r="1.48" fill="#111"/>
<circle cx="359.8" cy="543.4" r="1.92" fill="#111"/>
<circle cx="161.8" cy="560.2" r="1.45" fill="#111"/>
<circle cx="186.8" cy="561.0" r="1.46" fill="#111"/>
<circle cx="192.1" cy="559.3" r="1.58" fill="#111"/>
<circle cx="213.0" cy="551.5" r="1.78" fill="#111"/>
<circle cx="236.2" cy="551.7" r="1.58" fill="#111"/>
<path d="M266.5,548.5 L269.9,553.5 L264.6,554.3 Z" fill="none" stroke="#111" stroke-width="2.0" stroke-linejoin="round"/>
<circle cx="278.2" cy="551.6" r="1.44" fill="#111"/>
<circle cx="302.0" cy="560.3" r="1.46" fill="#111"/>
<circle cx="333.1" cy="558.9" r="1.48" fill="#111"/>
<circle cx="356.6" cy="551.1" r="1.76" fill="#111"/>
<circle cx="378.6" cy="562.6" r="1.47" fill="#111"/>
<circle cx="386.1" cy="561.7" r="1.46" fill="#111"/>
<circle cx="168.4" cy="577.2" r="2.05" fill="#111"/>
<circle cx="187.9" cy="566.6" r="1.76" fill="#111"/>
<circle cx="195.2" cy="581.2" r="2.05" fill="#111"/>
<circle cx="224.0" cy="579.5" r="2.02" fill="#111"/>
<circle cx="230.7" cy="576.0" r="1.82" fill="#111"/>
<circle cx="250.2" cy="582.5" r="1.69" fill="#111"/>
<circle cx="315.4" cy="570.9" r="1.44" fill="#111"/>
<circle cx="155.3" cy="599.9" r="1.99" fill="#111"/>
<circle cx="177.6" cy="596.2" r="1.80" fill="#111"/>
<circle cx="209.7" cy="601.9" r="1.68" fill="#111"/>
<circle cx="164.2" cy="608.6" r="1.66" fill="#111"/>
<circle cx="190.0" cy="611.4" r="1.52" fill="#111"/>
<path d="M197.7,621.7 L197.5,617.9 L200.6,619.3 Z" fill="#111" stroke="#111" stroke-width="3.2" stroke-linejoin="round"/>
<circle cx="169.4" cy="624.1" r="1.88" fill="#111"/>
<circle cx="173.3" cy="639.6" r="1.66" fill="#111"/>
<circle cx="197.9" cy="632.7" r="1.72" fill="#111"/>
<circle cx="171.0" cy="645.8" r="1.62" fill="#111"/>
<circle cx="203.2" cy="660.5" r="1.89" fill="#111"/>
<circle cx="156.3" cy="669.5" r="1.89" fill="#111"/>
<path d="M181.6,669.7 L179.6,675.4 L175.8,671.6 Z" fill="none" stroke="#111" stroke-width="2.0" stroke-linejoin="round"/>
<circle cx="193.8" cy="672.5" r="1.90" fill="#111"/>
<circle cx="168.9" cy="692.9" r="1.56" fill="#111"/>
<circle cx="189.1" cy="684.5" r="1.42" fill="#111"/>
<circle cx="210.4" cy="697.7" r="1.85" fill="#111"/>
<circle cx="183.1" cy="703.4" r="1.60" fill="#111"/>
<circle cx="210.5" cy="710.0" r="1.52" fill="#111"/>
<circle cx="154.3" cy="732.8" r="1.94" fill="#111"/>
<circle cx="176.8" cy="732.4" r="1.95" fill="#111"/>
<circle cx="192.4" cy="732.0" r="1.65" fill="#111"/>
<path d="M161.0,746.0 L159.9,742.5 L163.2,743.1 Z" fill="#111" stroke="#111" stroke-width="3.2" stroke-linejoin="round"/>
<circle cx="205.8" cy="740.1" r="1.50" fill="#111"/>
<line x1="286.1" y1="104.9" x2="281.8" y2="106.9" stroke="#111" stroke-width="2.3215222994857774" stroke-linecap="round"/>
<line x1="385.0" y1="104.5" x2="392.0" y2="107.3" stroke="#111" stroke-width="2.2847158619271277" stroke-linecap="round"/>
<line x1="262.4" y1="101.0" x2="269.6" y2="101.1" stroke="#111" stroke-width="2.511365701131339" stroke-linecap="round"/>
<path d="M283.1,108.9 L281.3,106.4 L282.9,104.9 L284.9,106.2 Z" fill="#111"/>
<line x1="242.7" y1="105.7" x2="241.5" y2="112.6" stroke="#111" stroke-width="1.83538169819328" stroke-linecap="round"/>
<path d="M286.0,100.2 L287.8,100.2 L287.8,102.0 L286.5,102.7 L285.0,103.3 L284.6,101.7 L284.6,100.4 Z" fill="#111"/>
<line x1="171.8" y1="105.2" x2="164.9" y2="108.6" stroke="#111" stroke-width="1.8018099789150834" stroke-linecap="round"/>
<line x1="283.0" y1="105.5" x2="277.8" y2="109.3" stroke="#111" stroke-width="2.2756482648361875" stroke-linecap="round"/>
<line x1="158.7" y1="96.2" x2="163.9" y2="96.3" stroke="#111" stroke-width="2.1175670663756345" stroke-linecap="round"/>
<line x1="324.1" y1="94.5" x2="330.9" y2="97.2" stroke="#111" stroke-width="2.1663887513205897" stroke-linecap="round"/>
<line x1="304.2" y1="96.3" x2="303.5" y2="100.7" stroke="#111" stroke-width="2.5811644857308433" stroke-linecap="round"/>
<line x1="226.3" y1="95.7" x2="233.3" y2="98.0" stroke="#111" stroke-width="2.4786589263895786" stroke-linecap="round"/>
<line x1="235.8" y1="99.7" x2="231.2" y2="100.0" stroke="#111" stroke-width="2.2851417814268964" stroke-linecap="round"/>
<path d="M332.2,95.4 L333.2,94.4 L334.7,94.9 L334.5,96.6 L332.7,97.1 Z" fill="#111"/>
<line x1="320.8" y1="106.7" x2="328.1" y2="107.4" stroke="#111" stroke-width="2.3733366115642482" stroke-linecap="round"/>
<line x1="315.2" y1="107.2" x2="307.8" y2="108.5" stroke="#111" stroke-width="1.9438492215795529" stroke-linecap="round"/>
<path d="M253.4,106.0 L252.4,106.9 L251.2,106.6 L250.0,105.4 L251.4,104.2 L253.0,104.6 Z" fill="#111"/>
<line x1="294.5" y1="106.3" x2="299.8" y2="106.5" stroke="#111" stroke-width="2.4428988769635405" stroke-linecap="round"/>
<line x1="273.2" y1="100.4" x2="278.6" y2="100.5" stroke="#111" stroke-width="2.4528545220417266" stroke-linecap="round"/>
<path d="M335.2,99.9 L333.6,100.0 L332.6,98.9 L333.7,97.9 L335.0,98.2 Z" fill="#111"/>
<line x1="385.7" y1="97.2" x2="379.2" y2="98.5" stroke="#111" stroke-width="2.230725331574418" stroke-linecap="round"/>
<line x1="240.4" y1="106.3" x2="246.6" y2="111.2" stroke="#111" stroke-width="1.8717120447623368" stroke-linecap="round"/>
<path d="M214.7,108.6 L213.7,110.1 L211.9,108.8 L213.4,107.0 Z" fill="#111"/>
<path d="M329.3,107.4 L326.9,107.8 L326.4,105.6 L328.6,105.1 Z" fill="#111"/>
<path d="M326.1,98.4 L325.5,97.9 L325.7,97.1 L326.3,96.4 L327.1,96.9 L327.3,97.7 L327.0,98.6 Z" fill="#111"/>
<path d="M384.8,104.4 L385.0,106.6 L382.7,107.7 L381.8,105.5 L382.6,102.9 Z" fill="#111"/>
<line x1="359.7" y1="105.5" x2="361.6" y2="110.5" stroke="#111" stroke-width="1.9648413242739275" stroke-linecap="round"/>
<path d="M337.2,98.1 L336.2,97.5 L335.8,95.8 L337.5,95.8 L339.0,96.4 L338.6,98.1 Z" fill="#111"/>
<path d="M305.6,99.1 L305.7,97.1 L307.4,97.4 L307.3,98.8 Z" fill="#111"/>
<path d="M144.0,107.4 L145.2,105.8 L147.6,106.0 L147.7,108.4 L146.1,109.6 L143.9,109.7 Z" fill="#111"/>
<path d="M359.5,110.3 L357.6,109.0 L358.9,106.8 L361.1,108.4 Z" fill="#111"/>
<line x1="303.5" y1="101.3" x2="299.9" y2="103.4" stroke="#111" stroke-width="2.330908616646604" stroke-linecap="round"/>
<line x1="201.8" y1="94.2" x2="199.1" y2="97.7" stroke="#111" stroke-width="2.1679625901895676" stroke-linecap="round"/>
<line x1="164.9" y1="94.9" x2="165.8" y2="99.5" stroke="#111" stroke-width="1.9845972801794316" stroke-linecap="round"/>
<path d="M170.3,96.1 L171.2,95.1 L173.0,95.2 L173.1,97.1 L171.8,98.6 L169.7,97.9 Z" fill="#111"/>
<line x1="353.0" y1="95.5" x2="358.2" y2="98.7" stroke="#111" stroke-width="1.9917898745628815" stroke-linecap="round"/>
<path d="M357.5,97.5 L358.9,97.8 L358.8,99.3 L357.5,99.6 L356.5,99.6 L355.5,98.6 L356.6,97.8 Z" fill="#111"/>
<path d="M315.9,100.8 L318.1,101.6 L318.4,103.9 L315.5,103.7 Z" fill="#111"/>
<path d="M307.3,95.5 L308.7,96.7 L309.3,98.4 L307.5,98.8 L306.3,98.3 L305.9,96.8 Z" fill="#111"/>
<path d="M368.0,96.5 L367.3,97.4 L366.4,97.7 L365.7,97.2 L365.7,96.4 L366.2,95.9 L367.0,95.9 Z" fill="#111"/>
<path d="M231.0,101.4 L232.4,100.6 L232.9,102.2 L232.9,103.5 L231.7,103.9 L230.2,103.8 L230.3,102.3 Z" fill="#111"/>
<path d="M384.3,105.6 L385.2,105.3 L385.8,106.2 L386.1,107.4 L384.8,107.4 L383.7,107.5 L383.6,106.3 Z" fill="#111"/>
<line x1="253.0" y1="102.8" x2="257.2" y2="104.5" stroke="#111" stroke-width="1.9923519168025448" stroke-linecap="round"/>
<path d="M382.0,96.8 L382.5,98.1 L381.4,99.0 L379.7,98.9 L379.5,97.1 L380.8,96.0 Z" fill="#111"/>
<line x1="367.1" y1="104.4" x2="359.4" y2="105.8" stroke="#111" stroke-width="2.0151475904450207" stroke-linecap="round"/>
<line x1="242.2" y1="94.5" x2="244.9" y2="98.0" stroke="#111" stroke-width="1.8140060836313052" stroke-linecap="round"/>
<line x1="216.5" y1="108.2" x2="211.4" y2="110.8" stroke="#111" stroke-width="2.223506274085327" stroke-linecap="round"/>
<line x1="344.0" y1="103.0" x2="341.9" y2="106.9" stroke="#111" stroke-width="1.9949965566372492" stroke-linecap="round"/>
<line x1="284.2" y1="106.2" x2="291.8" y2="108.0" stroke="#111" stroke-width="1.9541479911565358" stroke-linecap="round"/>
<path d="M364.3,102.3 L366.4,101.4 L367.1,103.5 L367.0,105.7 L364.7,105.9 L364.1,104.0 Z" fill="#111"/>
<path d="M309.4,99.0 L310.0,96.9 L312.1,96.1 L313.4,97.6 L314.7,99.4 L312.9,101.1 L311.0,100.2 Z" fill="#111"/>
<path d="M250.3,108.6 L250.8,110.5 L248.8,110.8 L247.4,109.4 L248.6,107.5 Z" fill="#111"/>
<path d="M171.9,98.6 L173.9,97.1 L175.4,98.8 L173.7,100.2 Z" fill="#111"/>
<line x1="253.6" y1="98.1" x2="256.6" y2="102.6" stroke="#111" stroke-width="2.4067359831167403" stroke-linecap="round"/>
<line x1="340.7" y1="104.3" x2="347.4" y2="106.8" stroke="#111" stroke-width="2.115223016558329" stroke-linecap="round"/>
<line x1="299.4" y1="97.4" x2="298.0" y2="102.0" stroke="#111" stroke-width="1.9988573235565115" stroke-linecap="round"/>
<line x1="330.2" y1="100.2" x2="336.7" y2="101.5" stroke="#111" stroke-width="1.9307261694763562" stroke-linecap="round"/>
<line x1="255.9" y1="103.2" x2="254.7" y2="107.2" stroke="#111" stroke-width="2.517667514175205" stroke-linecap="round"/>
<path d="M246.2,104.5 L244.3,105.2 L243.0,103.8 L243.6,101.2 L246.5,102.0 Z" fill="#111"/>
<path d="M201.5,96.8 L200.1,96.9 L199.8,95.5 L200.8,94.6 L202.0,95.4 Z" fill="#111"/>
<path d="M207.3,96.7 L205.7,97.9 L205.4,95.9 L207.0,94.7 Z" fill="#111"/>
<path d="M223.8,100.5 L225.6,102.8 L223.8,104.4 L222.6,102.8 Z" fill="#111"/>
<line x1="221.2" y1="95.3" x2="217.8" y2="97.8" stroke="#111" stroke-width="1.9217998814064043" stroke-linecap="round"/>
<line x1="254.3" y1="99.1" x2="254.9" y2="105.5" stroke="#111" stroke-width="2.4598837355581216" stroke-linecap="round"/>
<line x1="250.1" y1="93.3" x2="250.8" y2="98.1" stroke="#111" stroke-width="2.4719553866026445" stroke-linecap="round"/>
<line x1="327.0" y1="101.0" x2="331.0" y2="104.5" stroke="#111" stroke-width="1.8456652881557032" stroke-linecap="round"/>
<path d="M145.9,101.3 L147.9,101.3 L149.3,101.9 L150.0,103.5 L148.5,104.5 L147.1,104.3 L146.2,103.2 Z" fill="#111"/>
<line x1="331.9" y1="104.3" x2="336.3" y2="110.7" stroke="#111" stroke-width="2.4354864406887935" stroke-linecap="round"/>
<path d="M220.1,107.6 L219.1,105.5 L220.9,104.5 L222.5,106.5 Z" fill="#111"/>
<path d="M202.2,94.0 L204.1,94.5 L204.5,96.1 L204.0,98.1 L201.7,97.7 L201.1,95.7 Z" fill="#111"/>
<line x1="161.5" y1="106.6" x2="155.8" y2="107.7" stroke="#111" stroke-width="2.4818334190660525" stroke-linecap="round"/>
<line x1="244.2" y1="102.8" x2="248.1" y2="108.7" stroke="#111" stroke-width="2.3797609504098793" stroke-linecap="round"/>
<path d="M157.6,107.3 L154.9,109.5 L153.1,107.3 L153.3,105.0 L156.0,104.6 Z" fill="#111"/>
<line x1="213.3" y1="95.6" x2="220.1" y2="97.4" stroke="#111" stroke-width="2.14988282632712" stroke-linecap="round"/>
<line x1="241.6" y1="95.5" x2="238.5" y2="98.3" stroke="#111" stroke-width="2.0304240102160893" stroke-linecap="round"/>
<path d="M176.1,98.0 L175.0,98.5 L174.4,97.4 L174.6,96.3 L175.6,96.0 L176.5,96.3 L177.4,97.3 Z" fill="#111"/>
<line x1="170.8" y1="95.5" x2="171.5" y2="103.0" stroke="#111" stroke-width="2.5234034799737812" stroke-linecap="round"/>
<path d="M380.0,103.0 L381.4,103.7 L381.6,105.9 L379.5,105.4 L378.1,103.8 Z" fill="#111"/>
<path d="M228.2,98.8 L227.1,100.4 L225.0,100.5 L224.5,98.1 L226.7,97.2 Z" fill="#111"/>
<path d="M307.9,96.4 L306.9,97.7 L305.2,97.8 L304.4,96.2 L305.7,95.2 L307.2,94.8 Z" fill="#111"/>
<path d="M344.8,100.2 L344.0,98.6 L345.8,98.3 L347.3,98.2 L347.7,100.1 L346.2,101.2 Z" fill="#111"/>
<line x1="286.3" y1="107.6" x2="280.1" y2="109.8" stroke="#111" stroke-width="1.841773551646721" stroke-linecap="round"/>
<path d="M183.1,99.2 L183.4,97.3 L184.3,95.9 L185.8,96.6 L186.7,98.3 L185.0,99.2 Z" fill="#111"/>
<line x1="353.7" y1="106.2" x2="350.5" y2="109.4" stroke="#111" stroke-width="2.5506005761305324" stroke-linecap="round"/>
<path d="M312.6,104.2 L312.4,106.1 L310.9,107.5 L308.7,106.9 L308.0,104.7 L309.5,103.3 L311.1,103.5 Z" fill="#111"/>
<line x1="172.2" y1="106.4" x2="170.7" y2="110.3" stroke="#111" stroke-width="2.0960227791705948" stroke-linecap="round"/>
<line x1="265.7" y1="93.0" x2="266.2" y2="99.5" stroke="#111" stroke-width="2.0489130127572968" stroke-linecap="round"/>
<line x1="234.7" y1="102.0" x2="237.6" y2="107.5" stroke="#111" stroke-width="2.0548201078156505" stroke-linecap="round"/>
<path d="M348.8,106.4 L350.6,103.4 L353.4,106.0 L351.1,108.0 Z" fill="#111"/>
<line x1="235.5" y1="99.9" x2="229.0" y2="101.7" stroke="#111" stroke-width="1.8998860100197286" stroke-linecap="round"/>
<line x1="147.4" y1="103.1" x2="154.0" y2="105.1" stroke="#111" stroke-width="2.143453556291618" stroke-linecap="round"/>
<line x1="274.3" y1="105.4" x2="270.5" y2="109.3" stroke="#111" stroke-width="1.977862309181134" stroke-linecap="round"/>
<line x1="340.2" y1="95.0" x2="343.1" y2="102.4" stroke="#111" stroke-width="2.146774441944009" stroke-linecap="round"/>
<path d="M316.8,108.8 L318.1,107.6 L319.8,107.5 L319.8,109.1 L319.5,110.7 L317.8,110.3 Z" fill="#111"/>
<line x1="237.2" y1="105.5" x2="235.1" y2="109.6" stroke="#111" stroke-width="1.8140381569277835" stroke-linecap="round"/>
<line x1="360.9" y1="95.0" x2="360.8" y2="99.2" stroke="#111" stroke-width="1.8443396044218185" stroke-linecap="round"/>
<line x1="366.0" y1="104.4" x2="366.8" y2="111.2" stroke="#111" stroke-width="1.9720848054337379" stroke-linecap="round"/>
<path d="M178.9,99.4 L179.8,97.3 L181.7,97.9 L181.2,100.0 Z" fill="#111"/>
<path d="M270.5,101.8 L271.1,102.9 L269.9,103.5 L269.0,102.8 L268.5,101.7 L269.7,101.3 Z" fill="#111"/>
<line x1="185.1" y1="104.7" x2="186.0" y2="111.6" stroke="#111" stroke-width="1.8878448113752404" stroke-linecap="round"/>
<line x1="289.8" y1="95.8" x2="290.1" y2="101.5" stroke="#111" stroke-width="2.2087022963318623" stroke-linecap="round"/>
<line x1="141.4" y1="104.4" x2="143.4" y2="111.8" stroke="#111" stroke-width="2.247458730206679" stroke-linecap="round"/>
<path d="M221.8,96.5 L222.9,97.2 L223.0,98.4 L222.2,99.6 L220.6,99.6 L220.1,98.2 L220.7,97.0 Z" fill="#111"/>
<path d="M197.0,98.1 L195.5,97.9 L194.4,96.5 L195.8,95.3 L197.6,95.1 L197.9,96.9 Z" fill="#111"/>
<path d="M190.5,105.1 L190.5,103.5 L191.9,103.3 L192.6,105.0 Z" fill="#111"/>
<line x1="228.4" y1="104.1" x2="222.7" y2="107.4" stroke="#111" stroke-width="2.172232913162356" stroke-linecap="round"/>
<line x1="280.3" y1="93.8" x2="276.6" y2="98.4" stroke="#111" stroke-width="2.207124040305336" stroke-linecap="round"/>
<line x1="312.5" y1="107.7" x2="309.3" y2="111.0" stroke="#111" stroke-width="2.321916751043422" stroke-linecap="round"/>
<line x1="141.2" y1="102.6" x2="144.7" y2="108.3" stroke="#111" stroke-width="2.1190284180105716" stroke-linecap="round"/>
<line x1="285.3" y1="96.6" x2="283.2" y2="100.7" stroke="#111" stroke-width="2.241524543777256" stroke-linecap="round"/>
<line x1="216.4" y1="95.2" x2="209.9" y2="99.7" stroke="#111" stroke-width="2.2931086440277877" stroke-linecap="round"/>
<line x1="253.4" y1="98.2" x2="250.1" y2="100.7" stroke="#111" stroke-width="2.2391925128219703" stroke-linecap="round"/>
<path d="M224.7,109.3 L223.4,110.1 L221.9,110.5 L221.4,108.9 L222.5,108.2 L224.0,107.6 Z" fill="#111"/>
<line x1="211.5" y1="101.0" x2="215.9" y2="104.4" stroke="#111" stroke-width="1.8605778348037474" stroke-linecap="round"/>
<path d="M325.3,99.2 L324.1,98.4 L323.7,97.0 L324.8,95.8 L326.2,96.3 L327.3,97.3 L326.2,98.3 Z" fill="#111"/>
<path d="M370.4,102.8 L370.2,100.9 L371.9,100.2 L373.3,100.6 L374.1,101.7 L373.3,102.9 L372.1,103.3 Z" fill="#111"/>
<line x1="149.5" y1="99.5" x2="153.9" y2="101.0" stroke="#111" stroke-width="2.1706918010832617" stroke-linecap="round"/>
<line x1="193.3" y1="99.6" x2="189.0" y2="101.7" stroke="#111" stroke-width="1.8967109857738547" stroke-linecap="round"/>
<line x1="224.5" y1="98.9" x2="221.5" y2="104.0" stroke="#111" stroke-width="1.8195756733113129" stroke-linecap="round"/>
<line x1="367.8" y1="94.7" x2="364.5" y2="101.1" stroke="#111" stroke-width="2.3008259101937716" stroke-linecap="round"/>
<line x1="256.3" y1="103.3" x2="249.6" y2="105.8" stroke="#111" stroke-width="2.237862591689319" stroke-linecap="round"/>
<path d="M144.0,101.8 L144.7,100.8 L146.1,99.7 L147.2,101.2 L147.1,102.8 L145.8,104.0 L144.4,103.0 Z" fill="#111"/>
<line x1="305.9" y1="101.2" x2="299.9" y2="104.4" stroke="#111" stroke-width="2.550964146885935" stroke-linecap="round"/>
<path d="M231.3,107.1 L230.4,106.0 L230.6,104.3 L232.2,104.5 L233.8,104.6 L233.4,106.1 L232.9,107.7 Z" fill="#111"/>
<line x1="193.5" y1="103.4" x2="195.6" y2="106.8" stroke="#111" stroke-width="2.2639146726608836" stroke-linecap="round"/>
<line x1="302.4" y1="101.0" x2="301.6" y2="106.3" stroke="#111" stroke-width="2.258888434515425" stroke-linecap="round"/>
<line x1="376.1" y1="107.5" x2="382.0" y2="108.4" stroke="#111" stroke-width="2.462914900523118" stroke-linecap="round"/>
<line x1="250.1" y1="94.6" x2="247.0" y2="98.8" stroke="#111" stroke-width="2.2060804869370547" stroke-linecap="round"/>
<path d="M141.9,103.1 L144.3,102.4 L144.6,105.2 L142.4,105.0 Z" fill="#111"/>
<path d="M254.3,103.1 L252.4,102.1 L251.9,100.3 L253.2,98.2 L255.8,99.0 L256.5,101.7 Z" fill="#111"/>
<line x1="251.5" y1="102.3" x2="245.1" y2="105.3" stroke="#111" stroke-width="2.1649728694145156" stroke-linecap="round"/>
<line x1="239.9" y1="108.3" x2="243.9" y2="110.3" stroke="#111" stroke-width="2.3992890527020503" stroke-linecap="round"/>
<line x1="308.4" y1="95.0" x2="314.0" y2="97.5" stroke="#111" stroke-width="2.392309844121797" stroke-linecap="round"/>
<path d="M299.2,101.5 L300.1,99.5 L303.0,100.1 L301.5,103.5 Z" fill="#111"/>
<line x1="197.5" y1="103.2" x2="193.7" y2="105.3" stroke="#111" stroke-width="2.032800116200601" stroke-linecap="round"/>
<line x1="296.7" y1="107.7" x2="290.5" y2="111.1" stroke="#111" stroke-width="2.316064102565847" stroke-linecap="round"/>
<line x1="204.9" y1="96.3" x2="208.7" y2="99.5" stroke="#111" stroke-width="2.4860474931350987" stroke-linecap="round"/>
<path d="M209.3,95.9 L208.3,98.3 L205.8,98.6 L203.8,96.9 L205.2,94.7 L207.2,94.8 Z" fill="#111"/>
<line x1="369.1" y1="103.7" x2="369.9" y2="110.6" stroke="#111" stroke-width="1.985626486853257" stroke-linecap="round"/>
<line x1="347.3" y1="107.2" x2="346.5" y2="111.7" stroke="#111" stroke-width="2.347098309515333" stroke-linecap="round"/>
<path d="M244.5,97.2 L244.0,98.5 L243.2,99.6 L241.4,99.7 L241.4,97.9 L242.0,96.7 L243.2,96.7 Z" fill="#111"/>
<line x1="235.0" y1="94.5" x2="238.1" y2="99.7" stroke="#111" stroke-width="2.0260899899412137" stroke-linecap="round"/>
<line x1="288.5" y1="97.7" x2="283.2" y2="98.4" stroke="#111" stroke-width="2.1666410811185446" stroke-linecap="round"/>
<line x1="255.1" y1="97.0" x2="255.6" y2="104.7" stroke="#111" stroke-width="2.3564104221005464" stroke-linecap="round"/>
<line x1="370.7" y1="96.5" x2="376.2" y2="100.2" stroke="#111" stroke-width="1.939907076122436" stroke-linecap="round"/>
<line x1="188.6" y1="96.4" x2="190.3" y2="103.1" stroke="#111" stroke-width="2.2692496541999483" stroke-linecap="round"/>
<line x1="191.8" y1="94.3" x2="196.6" y2="98.8" stroke="#111" stroke-width="2.402565114717698" stroke-linecap="round"/>
<path d="M169.3,101.5 L168.5,99.6 L169.6,98.5 L171.2,99.8 Z" fill="#111"/>
<path d="M316.2,103.1 L315.0,104.5 L312.5,104.2 L313.5,102.0 L315.6,100.6 Z" fill="#111"/>
<line x1="207.8" y1="105.7" x2="209.4" y2="110.8" stroke="#111" stroke-width="2.573124321604685" stroke-linecap="round"/>
<line x1="318.4" y1="93.6" x2="312.9" y2="99.3" stroke="#111" stroke-width="1.8884017755365117" stroke-linecap="round"/>
<path d="M211.9,97.5 L209.4,99.7 L207.2,97.7 L209.3,96.1 Z" fill="#111"/>
<path d="M321.1,103.0 L322.4,101.8 L324.0,102.3 L325.4,104.2 L323.2,105.1 L321.4,104.9 Z" fill="#111"/>
<line x1="285.1" y1="94.7" x2="281.3" y2="99.1" stroke="#111" stroke-width="2.40002986797761" stroke-linecap="round"/>
<line x1="199.9" y1="95.7" x2="201.7" y2="99.3" stroke="#111" stroke-width="2.516283332252346" stroke-linecap="round"/>
<line x1="331.8" y1="107.2" x2="337.5" y2="108.0" stroke="#111" stroke-width="2.1810951516932935" stroke-linecap="round"/>
<path d="M387.1,108.7 L386.2,111.2 L384.2,111.4 L383.2,109.6 L384.6,107.9 Z" fill="#111"/>
<line x1="166.7" y1="104.4" x2="161.6" y2="105.4" stroke="#111" stroke-width="2.209732465618731" stroke-linecap="round"/>
<path d="M202.4,96.3 L204.0,97.4 L203.1,98.8 L201.7,98.1 Z" fill="#111"/>
<path d="M352.7,106.2 L351.7,104.6 L353.4,103.0 L355.2,105.4 Z" fill="#111"/>
<path d="M189.1,100.5 L190.5,99.8 L190.6,101.3 L190.2,102.3 L189.0,102.5 L188.5,101.4 Z" fill="#111"/>
<line x1="165.2" y1="103.2" x2="162.5" y2="107.8" stroke="#111" stroke-width="2.012971649536071" stroke-linecap="round"/>
<line x1="194.6" y1="100.7" x2="200.2" y2="101.9" stroke="#111" stroke-width="1.924585062771039" stroke-linecap="round"/>
<line x1="277.1" y1="107.7" x2="277.3" y2="112.1" stroke="#111" stroke-width="2.201840523960876" stroke-linecap="round"/>
<line x1="193.9" y1="104.5" x2="186.8" y2="106.0" stroke="#111" stroke-width="2.033553821226731" stroke-linecap="round"/>
<path d="M344.2,101.4 L345.7,101.3 L347.0,103.2 L344.7,104.4 L342.8,102.9 Z" fill="#111"/>
<line x1="341.3" y1="96.2" x2="336.4" y2="97.0" stroke="#111" stroke-width="1.9767975126683723" stroke-linecap="round"/>
<line x1="206.3" y1="96.6" x2="211.3" y2="99.3" stroke="#111" stroke-width="2.4619956509883787" stroke-linecap="round"/>
<path d="M252.3,96.6 L252.4,98.2 L252.3,99.9 L250.5,100.1 L249.8,98.6 L249.5,97.3 L250.6,96.1 Z" fill="#111"/>
<path d="M144.4,94.0 L145.2,96.3 L144.1,98.7 L141.7,97.8 L140.1,95.9 L141.8,93.8 Z" fill="#111"/>
<path d="M351.9,104.1 L350.6,104.6 L349.2,103.7 L349.9,102.1 L351.4,101.7 L352.0,103.0 Z" fill="#111"/>
<line x1="145.6" y1="101.0" x2="149.5" y2="102.5" stroke="#111" stroke-width="2.0345249967324124" stroke-linecap="round"/>
<path d="M297.0,101.6 L297.6,100.0 L299.0,100.9 L299.9,101.7 L299.6,103.0 L298.4,103.9 L296.8,103.1 Z" fill="#111"/>
<line x1="357.7" y1="103.9" x2="355.7" y2="107.7" stroke="#111" stroke-width="2.0883024557433574" stroke-linecap="round"/>
<line x1="346.3" y1="106.6" x2="349.1" y2="112.9" stroke="#111" stroke-width="2.004647640199877" stroke-linecap="round"/>
<path d="M147.8,103.1 L147.6,104.6 L146.2,105.6 L144.6,104.7 L144.9,103.2 L145.5,102.1 L146.7,102.3 Z" fill="#111"/>
<line x1="340.0" y1="103.5" x2="340.2" y2="108.9" stroke="#111" stroke-width="2.0158869558354633" stroke-linecap="round"/>
<line x1="318.4" y1="104.9" x2="320.2" y2="112.1" stroke="#111" stroke-width="2.1514009254489705" stroke-linecap="round"/>
<path d="M221.6,110.2 L220.4,110.7 L219.5,110.2 L219.2,109.2 L220.1,108.7 L221.2,108.8 Z" fill="#111"/>
<line x1="180.0" y1="104.6" x2="179.9" y2="109.1" stroke="#111" stroke-width="2.017290612694807" stroke-linecap="round"/>
<line x1="392.0" y1="108.1" x2="387.7" y2="111.6" stroke="#111" stroke-width="1.9486796163277795" stroke-linecap="round"/>
<path d="M324.5,96.4 L325.8,96.5 L326.2,98.2 L324.2,98.2 Z" fill="#111"/>
<line x1="216.2" y1="94.7" x2="214.1" y2="102.1" stroke="#111" stroke-width="1.9866722373443233" stroke-linecap="round"/>
<path d="M283.9,100.1 L285.2,98.9 L286.4,100.3 L285.0,101.6 Z" fill="#111"/>
<path d="M231.2,106.8 L233.7,106.9 L234.3,109.2 L232.4,111.1 L230.2,109.3 Z" fill="#111"/>
<line x1="275.6" y1="99.8" x2="282.4" y2="100.1" stroke="#111" stroke-width="2.174241721552644" stroke-linecap="round"/>
<line x1="307.0" y1="99.9" x2="307.4" y2="104.5" stroke="#111" stroke-width="2.279355155480876" stroke-linecap="round"/>
<line x1="382.9" y1="95.0" x2="377.3" y2="100.6" stroke="#111" stroke-width="2.4070028528731173" stroke-linecap="round"/>
<path d="M378.3,109.4 L375.1,109.8 L374.4,107.6 L376.6,106.4 Z" fill="#111"/>
<path d="M256.8,109.8 L255.1,110.0 L254.1,108.8 L254.9,107.3 L256.5,108.1 Z" fill="#111"/>
<line x1="240.8" y1="105.7" x2="236.2" y2="109.9" stroke="#111" stroke-width="2.019171764159113" stroke-linecap="round"/>
<line x1="297.1" y1="103.4" x2="294.7" y2="108.4" stroke="#111" stroke-width="2.5873913498639984" stroke-linecap="round"/>
<path d="M177.4,104.9 L176.6,106.5 L175.2,105.6 L175.8,103.8 Z" fill="#111"/>
<line x1="307.2" y1="99.5" x2="307.9" y2="104.4" stroke="#111" stroke-width="2.4319706064730635" stroke-linecap="round"/>
<line x1="351.2" y1="100.7" x2="347.1" y2="101.2" stroke="#111" stroke-width="1.9757686787094233" stroke-linecap="round"/>
<line x1="309.4" y1="103.8" x2="314.4" y2="106.8" stroke="#111" stroke-width="1.9580201121662553" stroke-linecap="round"/>
<path d="M302.0,103.4 L304.4,104.3 L304.6,107.0 L302.1,107.1 L300.7,105.5 Z" fill="#111"/>
<path d="M319.7,104.7 L321.3,104.8 L322.2,106.3 L321.1,107.5 L319.7,107.1 L319.0,106.0 Z" fill="#111"/>
<line x1="351.4" y1="103.5" x2="346.0" y2="104.0" stroke="#111" stroke-width="2.1587799045433522" stroke-linecap="round"/>
<path d="M344.9,103.8 L347.8,103.4 L347.9,105.8 L345.5,106.9 Z" fill="#111"/>
<line x1="157.9" y1="107.3" x2="161.0" y2="110.0" stroke="#111" stroke-width="2.2948743873254402" stroke-linecap="round"/>
<line x1="162.3" y1="105.4" x2="165.0" y2="109.5" stroke="#111" stroke-width="1.9459781599225818" stroke-linecap="round"/>
<path d="M301.8,104.5 L299.8,105.4 L298.1,104.0 L300.2,102.5 Z" fill="#111"/>
<path d="M215.4,105.0 L216.8,104.7 L217.6,105.5 L217.9,106.3 L217.4,107.2 L216.4,107.3 L215.1,106.6 Z" fill="#111"/>
<line x1="307.2" y1="98.8" x2="306.1" y2="106.3" stroke="#111" stroke-width="2.1054839533526732" stroke-linecap="round"/>
<line x1="233.2" y1="104.3" x2="238.4" y2="110.1" stroke="#111" stroke-width="1.9763639764855214" stroke-linecap="round"/>
<path d="M379.7,104.1 L377.5,103.2 L379.2,101.5 L381.0,102.7 Z" fill="#111"/>
<line x1="265.3" y1="92.7" x2="268.3" y2="99.0" stroke="#111" stroke-width="2.5007446331256427" stroke-linecap="round"/>
<line x1="194.5" y1="97.2" x2="194.0" y2="103.8" stroke="#111" stroke-width="2.1248407552022095" stroke-linecap="round"/>
<line x1="177.9" y1="107.1" x2="182.8" y2="110.6" stroke="#111" stroke-width="2.429586493654322" stroke-linecap="round"/>
<line x1="322.8" y1="98.6" x2="321.0" y2="102.6" stroke="#111" stroke-width="2.0207715174472263" stroke-linecap="round"/>
<line x1="259.7" y1="101.0" x2="264.6" y2="101.0" stroke="#111" stroke-width="2.149898957058687" stroke-linecap="round"/>
<line x1="342.1" y1="96.3" x2="339.7" y2="102.0" stroke="#111" stroke-width="2.2812081906992803" stroke-linecap="round"/>
<path d="M174.1,104.9 L175.6,106.1 L175.5,108.4 L173.3,108.5 L172.0,107.8 L171.2,106.4 L172.2,104.8 Z" fill="#111"/>
<line x1="176.8" y1="97.2" x2="181.5" y2="100.2" stroke="#111" stroke-width="1.9191301649794528" stroke-linecap="round"/>
<line x1="285.8" y1="95.2" x2="285.8" y2="101.3" stroke="#111" stroke-width="2.151736907039826" stroke-linecap="round"/>
<line x1="352.2" y1="94.1" x2="348.6" y2="97.3" stroke="#111" stroke-width="1.8306469791503825" stroke-linecap="round"/>
<path d="M282.4,101.7 L284.7,100.7 L285.5,102.9 L285.2,104.7 L283.5,104.8 L281.5,103.9 Z" fill="#111"/>
<path d="M387.7,98.4 L385.6,99.5 L385.2,97.4 L386.7,96.7 Z" fill="#111"/>
<path d="M205.2,108.9 L204.5,107.2 L206.2,106.0 L207.2,108.1 Z" fill="#111"/>
<path d="M168.9,99.2 L170.1,97.7 L171.6,98.4 L170.8,100.1 Z" fill="#111"/>
<line x1="219.3" y1="98.2" x2="220.8" y2="104.1" stroke="#111" stroke-width="1.9790192563084945" stroke-linecap="round"/>
<line x1="296.4" y1="103.9" x2="295.7" y2="110.6" stroke="#111" stroke-width="2.267900686076841" stroke-linecap="round"/>
<line x1="327.6" y1="97.1" x2="333.6" y2="101.8" stroke="#111" stroke-width="2.4566756988031058" stroke-linecap="round"/>
<line x1="154.3" y1="94.8" x2="154.1" y2="102.4" stroke="#111" stroke-width="2.5962062153662306" stroke-linecap="round"/>
<line x1="169.5" y1="103.4" x2="173.4" y2="107.5" stroke="#111" stroke-width="1.8071174205141316" stroke-linecap="round"/>
<path d="M261.5,98.7 L261.4,96.2 L263.7,96.2 L265.4,97.0 L264.7,98.6 L263.4,99.6 Z" fill="#111"/>
<line x1="234.7" y1="105.6" x2="239.5" y2="106.3" stroke="#111" stroke-width="1.8543096609602572" stroke-linecap="round"/>
<path d="M163.5,97.7 L161.1,97.5 L159.0,95.9 L161.4,94.7 L163.8,94.9 Z" fill="#111"/>
<path d="M234.8,97.3 L235.5,98.5 L234.5,99.7 L233.1,99.6 L232.5,98.4 L232.1,96.7 L233.8,96.5 Z" fill="#111"/>
<line x1="192.3" y1="99.7" x2="191.3" y2="105.2" stroke="#111" stroke-width="2.2152685031611536" stroke-linecap="round"/>
<line x1="347.4" y1="102.8" x2="351.9" y2="105.2" stroke="#111" stroke-width="2.5394503784360207" stroke-linecap="round"/>
<path d="M236.9,105.4 L237.4,102.7 L239.8,103.0 L241.0,104.6 L239.3,106.1 Z" fill="#111"/>
<line x1="152.0" y1="99.9" x2="148.8" y2="104.0" stroke="#111" stroke-width="2.2689016785612166" stroke-linecap="round"/>
<path d="M158.2,107.6 L159.4,109.6 L157.3,109.9 L156.7,108.5 Z" fill="#111"/>
<line x1="264.4" y1="104.1" x2="270.5" y2="105.4" stroke="#111" stroke-width="2.2834951968053585" stroke-linecap="round"/>
<line x1="217.3" y1="109.2" x2="211.0" y2="109.9" stroke="#111" stroke-width="2.05020573639623" stroke-linecap="round"/>
<line x1="279.0" y1="109.1" x2="285.5" y2="110.3" stroke="#111" stroke-width="2.0442503130295355" stroke-linecap="round"/>
<line x1="172.1" y1="100.7" x2="167.6" y2="102.7" stroke="#111" stroke-width="2.4706567270816406" stroke-linecap="round"/>
<line x1="309.7" y1="98.0" x2="311.8" y2="101.4" stroke="#111" stroke-width="2.165100262079705" stroke-linecap="round"/>
<line x1="278.0" y1="102.8" x2="280.1" y2="106.7" stroke="#111" stroke-width="2.213090279673069" stroke-linecap="round"/>
<line x1="232.0" y1="98.3" x2="235.7" y2="101.9" stroke="#111" stroke-width="2.046452959620165" stroke-linecap="round"/>
<line x1="368.9" y1="99.8" x2="370.2" y2="106.1" stroke="#111" stroke-width="1.9928247749222383" stroke-linecap="round"/>
<line x1="258.4" y1="105.7" x2="257.3" y2="112.8" stroke="#111" stroke-width="1.907929539665668" stroke-linecap="round"/>
<path d="M172.8,108.5 L172.1,106.5 L174.0,105.9 L175.0,107.0 L174.7,108.6 Z" fill="#111"/>
<path d="M218.3,107.5 L217.8,109.4 L215.9,108.7 L215.0,107.4 L215.5,106.0 L216.9,104.9 L218.6,105.8 Z" fill="#111"/>
<line x1="306.9" y1="100.9" x2="300.9" y2="101.8" stroke="#111" stroke-width="1.950336857977646" stroke-linecap="round"/>
<line x1="380.1" y1="104.8" x2="384.4" y2="108.8" stroke="#111" stroke-width="2.471282762775388" stroke-linecap="round"/>
<line x1="324.5" y1="103.1" x2="329.4" y2="108.6" stroke="#111" stroke-width="2.5034497307629566" stroke-linecap="round"/>
<path d="M339.1,100.9 L339.3,102.7 L338.1,103.6 L336.5,103.0 L337.3,101.4 Z" fill="#111"/>
<path d="M228.2,96.7 L226.9,99.4 L224.6,98.2 L224.5,96.3 L226.1,95.4 Z" fill="#111"/>
<path d="M371.8,108.1 L372.0,109.3 L372.2,111.0 L370.5,110.6 L369.5,109.9 L369.8,108.7 L370.6,108.0 Z" fill="#111"/>
<line x1="321.2" y1="103.7" x2="316.3" y2="104.2" stroke="#111" stroke-width="2.0293892992313607" stroke-linecap="round"/>
<line x1="232.4" y1="109.7" x2="236.9" y2="110.0" stroke="#111" stroke-width="2.4785187160425117" stroke-linecap="round"/>
<line x1="316.3" y1="105.8" x2="321.8" y2="108.7" stroke="#111" stroke-width="2.4502851211940704" stroke-linecap="round"/>
<path d="M275.0,98.3 L276.6,97.7 L277.7,98.8 L277.4,100.1 L276.2,101.1 L275.2,99.9 Z" fill="#111"/>
<line x1="169.3" y1="97.0" x2="165.5" y2="103.7" stroke="#111" stroke-width="2.3165512040865806" stroke-linecap="round"/>
<line x1="373.8" y1="104.3" x2="377.0" y2="109.2" stroke="#111" stroke-width="2.4077139292158054" stroke-linecap="round"/>
<line x1="171.7" y1="103.7" x2="167.0" y2="105.3" stroke="#111" stroke-width="2.3469486992211412" stroke-linecap="round"/>
<line x1="176.5" y1="97.4" x2="171.1" y2="97.5" stroke="#111" stroke-width="2.5595336516696725" stroke-linecap="round"/>
<line x1="251.0" y1="105.8" x2="255.0" y2="108.2" stroke="#111" stroke-width="2.5774400356880607" stroke-linecap="round"/>
<path d="M159.7,102.0 L160.1,100.9 L161.3,100.8 L162.0,101.6 L162.4,102.8 L161.2,103.6 L159.7,103.5 Z" fill="#111"/>
<line x1="247.1" y1="95.1" x2="243.9" y2="97.6" stroke="#111" stroke-width="1.8298371828008628" stroke-linecap="round"/>
<line x1="251.2" y1="97.8" x2="247.5" y2="99.6" stroke="#111" stroke-width="2.4738221350637617" stroke-linecap="round"/>
<line x1="354.8" y1="100.1" x2="356.8" y2="105.2" stroke="#111" stroke-width="1.8789471243969789" stroke-linecap="round"/>
<line x1="220.6" y1="106.6" x2="220.6" y2="112.2" stroke="#111" stroke-width="2.5669917408554523" stroke-linecap="round"/>
<path d="M272.9,94.7 L274.7,95.5 L274.7,97.2 L274.3,98.7 L272.4,99.3 L270.8,97.9 L271.3,95.8 Z" fill="#111"/>
<line x1="155.6" y1="106.9" x2="151.2" y2="109.6" stroke="#111" stroke-width="2.536060345189549" stroke-linecap="round"/>
<line x1="366.9" y1="97.2" x2="362.9" y2="101.0" stroke="#111" stroke-width="2.0367743052759733" stroke-linecap="round"/>
<line x1="299.2" y1="99.3" x2="291.8" y2="101.3" stroke="#111" stroke-width="2.253386368748621" stroke-linecap="round"/>
<path d="M281.7,108.7 L283.8,108.2 L284.7,110.1 L283.3,111.8 L281.0,110.9 Z" fill="#111"/>
<line x1="143.4" y1="99.9" x2="147.6" y2="100.4" stroke="#111" stroke-width="2.4322306051513127" stroke-linecap="round"/>
<path d="M303.3,105.3 L305.4,106.4 L304.6,108.6 L302.4,108.5 L302.2,106.8 Z" fill="#111"/>
<path d="M343.8,107.0 L343.9,108.3 L342.7,109.4 L340.9,108.9 L341.1,107.2 L341.8,106.1 L343.2,105.8 Z" fill="#111"/>
<path d="M338.5,97.6 L338.6,94.1 L341.4,95.3 L341.4,97.8 Z" fill="#111"/>
<path d="M182.0,95.9 L182.6,98.8 L179.6,99.0 L178.8,96.0 Z" fill="#111"/>
<path d="M173.9,109.0 L171.6,109.6 L170.2,107.7 L172.5,107.2 Z" fill="#111"/>
<line x1="247.4" y1="101.5" x2="254.7" y2="104.6" stroke="#111" stroke-width="2.582289426528959" stroke-linecap="round"/>
<path d="M187.9,106.8 L186.9,106.4 L187.2,105.4 L187.6,104.1 L189.1,104.4 L189.2,105.7 L189.1,106.9 Z" fill="#111"/>
<line x1="306.3" y1="96.2" x2="313.0" y2="98.3" stroke="#111" stroke-width="2.045068724888787" stroke-linecap="round"/>
<line x1="208.7" y1="105.5" x2="215.6" y2="107.9" stroke="#111" stroke-width="1.927683576600144" stroke-linecap="round"/>
<path d="M230.1,109.0 L228.4,109.0 L228.0,107.7 L229.7,107.1 Z" fill="#111"/>
<line x1="358.0" y1="100.0" x2="361.0" y2="102.9" stroke="#111" stroke-width="2.072521902329441" stroke-linecap="round"/>
<line x1="335.6" y1="104.7" x2="341.2" y2="107.0" stroke="#111" stroke-width="2.3595149508155315" stroke-linecap="round"/>
<path d="M236.1,100.5 L236.8,98.5 L239.2,97.6 L240.3,100.3 L238.0,101.5 Z" fill="#111"/>
<path d="M297.7,96.0 L298.0,96.8 L297.6,97.5 L296.7,98.0 L295.7,97.4 L296.2,96.4 L296.8,95.6 Z" fill="#111"/>
<path d="M387.5,103.6 L386.4,101.9 L388.0,100.1 L390.6,100.5 L391.0,103.1 L389.1,104.3 Z" fill="#111"/>
<line x1="273.0" y1="98.8" x2="267.4" y2="100.5" stroke="#111" stroke-width="2.529775165742965" stroke-linecap="round"/>
<line x1="373.6" y1="100.4" x2="371.7" y2="104.5" stroke="#111" stroke-width="2.536870129430094" stroke-linecap="round"/>
<line x1="361.0" y1="100.4" x2="357.5" y2="102.6" stroke="#111" stroke-width="2.478266611911355" stroke-linecap="round"/>
<path d="M237.5,107.4 L236.7,109.3 L234.7,109.8 L233.9,108.2 L233.1,106.6 L234.5,104.9 L236.3,106.1 Z" fill="#111"/>
<line x1="191.8" y1="97.6" x2="193.2" y2="104.2" stroke="#111" stroke-width="2.163501105506525" stroke-linecap="round"/>
<path d="M239.0,97.1 L240.1,97.9 L240.2,99.2 L239.4,100.1 L238.4,99.7 L237.5,99.0 L237.9,97.9 Z" fill="#111"/>
<path d="M390.9,100.8 L389.6,102.4 L387.5,102.6 L385.9,100.9 L387.3,99.2 L388.6,98.3 L389.9,99.2 Z" fill="#111"/>
<path d="M194.1,102.4 L194.9,101.3 L196.7,100.5 L198.1,102.1 L197.3,104.0 L195.7,105.6 L193.6,104.4 Z" fill="#111"/>
<line x1="213.9" y1="96.0" x2="220.5" y2="96.9" stroke="#111" stroke-width="1.9795059092302498" stroke-linecap="round"/>
<line x1="262.7" y1="92.8" x2="263.8" y2="99.2" stroke="#111" stroke-width="2.023342724867709" stroke-linecap="round"/>
<path d="M202.5,97.3 L202.1,99.5 L200.2,99.8 L198.3,99.9 L197.4,97.9 L198.7,96.1 L200.5,96.8 Z" fill="#111"/>
<path d="M216.4,100.3 L218.1,99.3 L218.8,101.2 L217.3,101.7 Z" fill="#111"/>
<line x1="314.6" y1="99.1" x2="313.3" y2="104.4" stroke="#111" stroke-width="2.1993170632857213" stroke-linecap="round"/>
<line x1="195.5" y1="95.7" x2="198.2" y2="101.3" stroke="#111" stroke-width="2.182131472665239" stroke-linecap="round"/>
<path d="M313.4,107.5 L316.7,106.8 L317.5,110.1 L314.3,110.7 Z" fill="#111"/>
<line x1="250.2" y1="102.5" x2="250.6" y2="107.3" stroke="#111" stroke-width="2.5861188533103223" stroke-linecap="round"/>
<line x1="365.2" y1="97.4" x2="361.4" y2="103.0" stroke="#111" stroke-width="2.0337035636044956" stroke-linecap="round"/>
<line x1="174.1" y1="104.0" x2="178.1" y2="109.0" stroke="#111" stroke-width="2.4768471610903773" stroke-linecap="round"/>
<line x1="260.5" y1="97.9" x2="268.4" y2="98.4" stroke="#111" stroke-width="2.1185278316913236" stroke-linecap="round"/>
<circle cx="651.2" cy="218.2" r="1.69" fill="#111"/>
<path d="M672.1,204.4 L673.6,207.9 L670.2,207.7 Z" fill="#111" stroke="#111" stroke-width="3.2" stroke-linejoin="round"/>
<circle cx="695.7" cy="212.5" r="1.94" fill="#111"/>
<circle cx="722.3" cy="218.3" r="2.08" fill="#111"/>
<circle cx="744.3" cy="203.7" r="1.96" fill="#111"/>
<circle cx="755.5" cy="206.2" r="1.60" fill="#111"/>
<circle cx="781.8" cy="219.0" r="1.85" fill="#111"/>
<circle cx="799.2" cy="209.7" r="2.05" fill="#111"/>
<circle cx="655.5" cy="227.7" r="1.43" fill="#111"/>
<circle cx="674.8" cy="233.1" r="1.75" fill="#111"/>
<circle cx="706.2" cy="225.1" r="1.56" fill="#111"/>
<circle cx="713.2" cy="225.2" r="1.49" fill="#111"/>
<circle cx="743.3" cy="230.4" r="1.44" fill="#111"/>
<circle cx="764.0" cy="224.8" r="1.43" fill="#111"/>
<circle cx="778.2" cy="221.8" r="1.76" fill="#111"/>
<circle cx="655.9" cy="244.1" r="1.81" fill="#111"/>
<circle cx="673.0" cy="242.7" r="1.55" fill="#111"/>
<circle cx="703.2" cy="241.4" r="1.54" fill="#111"/>
<circle cx="718.6" cy="261.4" r="2.08" fill="#111"/>
<circle cx="733.7" cy="257.1" r="1.53" fill="#111"/>
<circle cx="761.7" cy="254.5" r="1.47" fill="#111"/>
<circle cx="782.4" cy="247.2" r="1.72" fill="#111"/>
<circle cx="797.7" cy="248.2" r="1.53" fill="#111"/>
<circle cx="648.7" cy="266.3" r="1.53" fill="#111"/>
<circle cx="681.3" cy="263.3" r="1.99" fill="#111"/>
<circle cx="687.9" cy="264.7" r="2.06" fill="#111"/>
<circle cx="721.9" cy="267.3" r="1.80" fill="#111"/>
<circle cx="740.1" cy="267.7" r="2.00" fill="#111"/>
<circle cx="755.1" cy="262.6" r="1.59" fill="#111"/>
<circle cx="781.2" cy="269.6" r="1.89" fill="#111"/>
<circle cx="802.6" cy="282.7" r="1.99" fill="#111"/>
<circle cx="663.3" cy="291.5" r="1.52" fill="#111"/>
<circle cx="682.3" cy="291.5" r="2.05" fill="#111"/>
<path d="M694.9,286.2 L691.0,285.6 L693.0,282.8 Z" fill="#111" stroke="#111" stroke-width="3.2" stroke-linejoin="round"/>
<circle cx="725.9" cy="294.2" r="1.50" fill="#111"/>
<circle cx="730.9" cy="287.9" r="1.53" fill="#111"/>
<circle cx="751.9" cy="293.0" r="2.01" fill="#111"/>
<circle cx="775.4" cy="291.6" r="1.50" fill="#111"/>
<circle cx="806.3" cy="292.7" r="1.79" fill="#111"/>
<circle cx="649.4" cy="311.0" r="1.71" fill="#111"/>
<circle cx="668.5" cy="319.7" r="2.06" fill="#111"/>
<circle cx="699.2" cy="307.1" r="1.59" fill="#111"/>
<circle cx="708.2" cy="316.1" r="1.63" fill="#111"/>
<circle cx="742.2" cy="305.4" r="1.76" fill="#111"/>
<circle cx="753.1" cy="309.5" r="1.71" fill="#111"/>
<circle cx="777.8" cy="306.4" r="1.48" fill="#111"/>
<circle cx="792.8" cy="315.9" r="1.90" fill="#111"/>
<path d="M662.1,337.1 L665.2,339.2 L662.3,340.8 Z" fill="#111" stroke="#111" stroke-width="3.2" stroke-linejoin="round"/>
<path d="M677.3,344.0 L673.5,343.0 L675.8,340.3 Z" fill="#111" stroke="#111" stroke-width="3.2" stroke-linejoin="round"/>
<circle cx="690.9" cy="342.0" r="1.64" fill="#111"/>
<path d="M722.5,341.2 L725.3,337.4 L727.2,341.1 Z" fill="#111" stroke="#111" stroke-width="3.2" stroke-linejoin="round"/>
<circle cx="733.5" cy="340.2" r="1.95" fill="#111"/>
<circle cx="769.7" cy="341.1" r="1.41" fill="#111"/>
<path d="M776.3,336.9 L780.0,332.7 L781.8,337.3 Z" fill="none" stroke="#111" stroke-width="2.0" stroke-linejoin="round"/>
<circle cx="796.6" cy="343.8" r="1.99" fill="#111"/>
<circle cx="681.3" cy="347.4" r="1.58" fill="#111"/>
<circle cx="706.7" cy="349.7" r="1.71" fill="#111"/>
<circle cx="714.8" cy="350.3" r="1.50" fill="#111"/>
<circle cx="749.6" cy="351.6" r="1.71" fill="#111"/>
<circle cx="765.2" cy="352.2" r="1.83" fill="#111"/>
<circle cx="783.3" cy="355.3" r="1.52" fill="#111"/>
<circle cx="665.6" cy="370.3" r="1.98" fill="#111"/>
<circle cx="679.5" cy="370.7" r="1.54" fill="#111"/>
<path d="M708.9,381.6 L709.0,386.3 L705.2,384.6 Z" fill="#111" stroke="#111" stroke-width="3.2" stroke-linejoin="round"/>
<circle cx="718.8" cy="379.5" r="2.09" fill="#111"/>
<circle cx="745.2" cy="372.6" r="1.53" fill="#111"/>
<circle cx="770.2" cy="368.9" r="1.75" fill="#111"/>
<circle cx="783.6" cy="387.7" r="1.87" fill="#111"/>
<circle cx="806.6" cy="368.1" r="1.86" fill="#111"/>
<circle cx="657.0" cy="388.5" r="1.45" fill="#111"/>
<circle cx="679.2" cy="406.2" r="1.78" fill="#111"/>
<circle cx="703.9" cy="397.5" r="2.09" fill="#111"/>
<circle cx="724.1" cy="396.4" r="1.79" fill="#111"/>
<circle cx="767.9" cy="400.7" r="1.59" fill="#111"/>
<circle cx="783.8" cy="392.9" r="1.67" fill="#111"/>
<circle cx="804.1" cy="401.7" r="1.84" fill="#111"/>
<circle cx="663.2" cy="429.2" r="1.80" fill="#111"/>
<circle cx="684.8" cy="420.6" r="1.76" fill="#111"/>
<circle cx="689.9" cy="429.0" r="1.52" fill="#111"/>
<circle cx="715.8" cy="410.8" r="1.42" fill="#111"/>
<circle cx="730.3" cy="412.9" r="2.01" fill="#111"/>
<circle cx="770.3" cy="419.6" r="1.85" fill="#111"/>
<circle cx="782.4" cy="415.2" r="1.71" fill="#111"/>
<circle cx="795.8" cy="415.4" r="1.57" fill="#111"/>
<circle cx="652.8" cy="446.6" r="1.72" fill="#111"/>
<circle cx="681.7" cy="432.0" r="1.84" fill="#111"/>
<circle cx="705.2" cy="441.9" r="1.63" fill="#111"/>
<circle cx="726.1" cy="430.4" r="2.06" fill="#111"/>
<circle cx="737.9" cy="449.9" r="1.92" fill="#111"/>
<circle cx="755.7" cy="432.6" r="2.05" fill="#111"/>
<circle cx="780.6" cy="443.7" r="1.90" fill="#111"/>
<circle cx="794.1" cy="436.6" r="1.77" fill="#111"/>
<circle cx="659.4" cy="458.5" r="1.71" fill="#111"/>
<circle cx="668.9" cy="452.5" r="1.89" fill="#111"/>
<path d="M702.9,458.8 L700.8,462.0 L699.1,459.1 Z" fill="#111" stroke="#111" stroke-width="3.2" stroke-linejoin="round"/>
<circle cx="711.8" cy="470.2" r="1.57" fill="#111"/>
<circle cx="743.3" cy="471.0" r="1.98" fill="#111"/>
<circle cx="750.0" cy="456.0" r="1.93" fill="#111"/>
<circle cx="790.5" cy="458.9" r="2.00" fill="#111"/>
<circle cx="665.3" cy="489.0" r="1.56" fill="#111"/>
<path d="M670.6,484.6 L672.9,482.0 L674.1,484.8 Z" fill="#111" stroke="#111" stroke-width="3.2" stroke-linejoin="round"/>
<circle cx="689.7" cy="485.1" r="1.86" fill="#111"/>
<path d="M711.4,484.5 L717.2,483.7 L715.5,488.6 Z" fill="none" stroke="#111" stroke-width="2.0" stroke-linejoin="round"/>
<circle cx="740.6" cy="472.2" r="1.68" fill="#111"/>
<path d="M764.1,473.9 L760.1,473.6 L762.0,470.5 Z" fill="#111" stroke="#111" stroke-width="3.2" stroke-linejoin="round"/>
<circle cx="779.4" cy="476.9" r="1.71" fill="#111"/>
<circle cx="803.3" cy="489.7" r="1.77" fill="#111"/>
<path d="M653.4,504.6 L656.6,500.7 L658.4,504.7 Z" fill="none" stroke="#111" stroke-width="2.0" stroke-linejoin="round"/>
<circle cx="674.7" cy="503.7" r="2.04" fill="#111"/>
<circle cx="701.0" cy="497.4" r="1.64" fill="#111"/>
<circle cx="716.4" cy="499.0" r="2.04" fill="#111"/>
<circle cx="745.5" cy="501.2" r="1.80" fill="#111"/>
<circle cx="763.3" cy="496.6" r="1.68" fill="#111"/>
<circle cx="773.0" cy="512.9" r="1.75" fill="#111"/>
<circle cx="792.6" cy="508.2" r="1.56" fill="#111"/>
<circle cx="652.8" cy="526.8" r="1.81" fill="#111"/>
<path d="M683.8,524.7 L684.0,520.1 L687.5,522.1 Z" fill="#111" stroke="#111" stroke-width="3.2" stroke-linejoin="round"/>
<circle cx="702.1" cy="531.1" r="1.42" fill="#111"/>
<path d="M726.4,535.3 L723.3,531.2 L727.8,530.3 Z" fill="none" stroke="#111" stroke-width="2.0" stroke-linejoin="round"/>
<circle cx="739.5" cy="514.0" r="1.58" fill="#111"/>
<circle cx="757.0" cy="525.2" r="1.89" fill="#111"/>
<circle cx="784.5" cy="515.5" r="1.67" fill="#111"/>
<circle cx="804.1" cy="533.1" r="1.42" fill="#111"/>
<circle cx="651.2" cy="535.3" r="1.79" fill="#111"/>
<circle cx="677.1" cy="544.6" r="1.77" fill="#111"/>
<circle cx="723.6" cy="551.5" r="1.57" fill="#111"/>
<path d="M733.8,547.8 L733.9,551.6 L730.8,550.2 Z" fill="#111" stroke="#111" stroke-width="3.2" stroke-linejoin="round"/>
<circle cx="760.0" cy="551.4" r="1.80" fill="#111"/>
<circle cx="803.4" cy="553.0" r="1.98" fill="#111"/>
<circle cx="652.2" cy="564.6" r="1.53" fill="#111"/>
<circle cx="680.3" cy="573.3" r="1.71" fill="#111"/>
<circle cx="699.4" cy="570.3" r="2.09" fill="#111"/>
<circle cx="708.6" cy="573.8" r="1.58" fill="#111"/>
<path d="M734.4,560.9 L732.1,557.4 L735.8,556.9 Z" fill="#111" stroke="#111" stroke-width="3.2" stroke-linejoin="round"/>
<circle cx="754.8" cy="558.1" r="1.70" fill="#111"/>
<circle cx="791.9" cy="575.6" r="1.51" fill="#111"/>
<circle cx="800.0" cy="565.4" r="1.47" fill="#111"/>
<circle cx="756.0" cy="579.0" r="1.51" fill="#111"/>
<path d="M821.2,301.1 L816.4,300.7 L818.3,296.5 L821.3,295.1 L823.8,298.1 Z" fill="#111"/>
<circle cx="842.0" cy="292.0" r="1.69" fill="#111"/>
<circle cx="846.3" cy="298.3" r="2.07" fill="#111"/>
<path d="M864.2,307.3 L860.2,306.5 L859.0,302.6 L861.9,300.0 L865.6,300.7 L865.1,304.0 Z" fill="#111"/>
<path d="M911.7,303.8 L909.4,306.0 L907.0,303.7 L907.0,300.5 L909.6,299.3 L912.0,299.9 L914.5,302.0 Z" fill="#111"/>
<circle cx="924.4" cy="292.2" r="1.36" fill="#111"/>
<path d="M942.7,294.4 L944.4,297.6 L941.4,299.6 L937.8,295.9 Z" fill="#111"/>
<path d="M961.9,296.5 L964.3,295.8 L966.5,297.2 L966.4,300.1 L963.6,300.6 L962.2,298.9 Z" fill="#111"/>
<path d="M820.7,316.0 L823.4,313.9 L826.0,314.6 L825.6,317.1 L823.4,318.1 Z" fill="#111"/>
<line x1="843.9" y1="306.2" x2="847.6" y2="306.7" stroke="#111" stroke-width="2.0" stroke-linecap="round"/>
<line x1="848.1" y1="308.1" x2="852.1" y2="309.2" stroke="#111" stroke-width="2.0" stroke-linecap="round"/>
<path d="M860.0,313.1 L856.6,311.3 L858.6,308.1 L861.1,310.0 Z" fill="#111"/>
<circle cx="876.8" cy="308.7" r="2.08" fill="#111"/>
<circle cx="889.6" cy="315.2" r="1.76" fill="#111"/>
<path d="M892.1,304.1 L896.3,304.1 L899.1,307.1 L896.3,309.8 L892.7,312.2 L890.3,308.1 Z" fill="#111"/>
<circle cx="913.7" cy="314.1" r="1.79" fill="#111"/>
<path d="M924.3,316.0 L921.4,316.7 L919.8,314.3 L920.1,311.3 L923.3,311.0 L925.9,313.1 Z" fill="#111"/>
<path d="M939.9,310.2 L941.2,312.5 L939.5,314.9 L936.9,314.1 L935.1,312.5 L935.1,309.6 L937.9,308.1 Z" fill="#111"/>
<circle cx="949.5" cy="311.4" r="1.31" fill="#111"/>
<line x1="832.3" y1="324.2" x2="831.4" y2="327.8" stroke="#111" stroke-width="2.0" stroke-linecap="round"/>
<circle cx="842.1" cy="318.8" r="2.02" fill="#111"/>
<path d="M843.9,317.8 L847.3,315.1 L850.3,316.0 L850.8,319.3 L847.3,320.8 Z" fill="#111"/>
<line x1="879.7" y1="323.2" x2="884.7" y2="324.9" stroke="#111" stroke-width="2.0" stroke-linecap="round"/>
<line x1="899.8" y1="325.7" x2="897.1" y2="328.8" stroke="#111" stroke-width="2.0" stroke-linecap="round"/>
<circle cx="942.5" cy="319.6" r="1.66" fill="#111"/>
<line x1="816.4" y1="329.6" x2="813.5" y2="332.8" stroke="#111" stroke-width="2.0" stroke-linecap="round"/>
<path d="M833.8,336.3 L832.8,334.4 L832.4,331.7 L835.2,331.7 L837.7,333.3 L836.2,335.8 Z" fill="#111"/>
<path d="M852.1,331.5 L849.9,335.0 L846.5,332.6 L848.6,328.3 Z" fill="#111"/>
<circle cx="863.9" cy="337.6" r="1.49" fill="#111"/>
<line x1="874.9" y1="330.7" x2="873.9" y2="334.9" stroke="#111" stroke-width="2.0" stroke-linecap="round"/>
<path d="M893.2,333.6 L897.2,335.0 L894.1,338.5 L890.1,336.4 Z" fill="#111"/>
<circle cx="897.7" cy="333.0" r="1.75" fill="#111"/>
<path d="M910.7,333.4 L909.4,337.1 L905.3,335.3 L907.6,331.8 Z" fill="#111"/>
<path d="M927.2,329.0 L929.1,330.3 L928.2,332.4 L926.4,333.0 L924.9,332.3 L924.0,330.7 L925.5,329.6 Z" fill="#111"/>
<path d="M931.8,340.1 L930.1,339.7 L929.3,337.6 L931.0,335.9 L933.0,336.8 L934.9,338.1 L933.5,340.0 Z" fill="#111"/>
<circle cx="821.4" cy="341.6" r="2.01" fill="#111"/>
<circle cx="834.6" cy="343.8" r="1.53" fill="#111"/>
<circle cx="872.6" cy="350.4" r="1.59" fill="#111"/>
<line x1="888.1" y1="340.8" x2="885.0" y2="343.6" stroke="#111" stroke-width="2.0" stroke-linecap="round"/>
<line x1="901.0" y1="339.5" x2="898.6" y2="342.0" stroke="#111" stroke-width="2.0" stroke-linecap="round"/>
<path d="M910.5,345.1 L906.9,347.1 L904.8,343.9 L904.3,340.8 L907.6,339.3 L911.0,341.1 Z" fill="#111"/>
<circle cx="928.0" cy="341.1" r="1.66" fill="#111"/>
<path d="M935.2,341.6 L936.7,343.3 L934.9,345.3 L932.6,344.5 L931.1,342.3 L933.3,340.6 Z" fill="#111"/>
<path d="M842.8,361.0 L838.4,362.0 L839.0,357.8 L842.3,357.5 Z" fill="#111"/>
<circle cx="849.0" cy="361.6" r="2.17" fill="#111"/>
<path d="M862.4,355.5 L862.6,353.0 L865.0,352.2 L866.5,353.6 L868.4,355.6 L866.3,357.5 L864.2,356.6 Z" fill="#111"/>
<path d="M873.7,361.3 L873.9,363.2 L872.6,364.6 L870.7,364.2 L868.0,362.8 L869.8,360.4 L872.2,358.8 Z" fill="#111"/>
<circle cx="884.9" cy="356.0" r="1.91" fill="#111"/>
<path d="M897.4,357.5 L896.0,355.7 L897.6,354.2 L899.5,354.0 L901.1,355.8 L899.6,357.9 Z" fill="#111"/>
<circle cx="913.0" cy="353.2" r="1.33" fill="#111"/>
<path d="M834.2,365.7 L830.3,368.9 L827.8,364.3 L831.7,362.9 Z" fill="#111"/>
<circle cx="835.5" cy="374.9" r="1.94" fill="#111"/>
<path d="M859.2,373.8 L859.2,375.9 L857.1,376.2 L855.2,376.0 L855.0,374.0 L856.3,372.8 L858.3,371.7 Z" fill="#111"/>
<line x1="866.9" y1="371.2" x2="869.4" y2="375.4" stroke="#111" stroke-width="2.0" stroke-linecap="round"/>
<path d="M899.5,364.5 L898.6,366.8 L897.2,369.3 L894.9,367.6 L892.4,365.5 L894.7,363.0 L897.7,361.8 Z" fill="#111"/>
<circle cx="887.9" cy="380.6" r="1.62" fill="#111"/>
<path d="M819.8,394.6 L818.3,395.5 L816.1,395.3 L815.7,392.6 L818.0,391.1 L819.6,393.0 Z" fill="#111"/>
<circle cx="838.1" cy="395.2" r="1.56" fill="#111"/>
<circle cx="852.5" cy="389.5" r="2.16" fill="#111"/>
<line x1="810.8" y1="408.9" x2="812.3" y2="411.9" stroke="#111" stroke-width="2.0" stroke-linecap="round"/>
<path d="M847.3,407.4 L847.6,409.5 L847.5,411.9 L845.3,411.1 L844.2,410.2 L843.8,408.6 L845.3,407.9 Z" fill="#111"/>
<path d="M853.8,403.2 L856.2,401.3 L859.1,401.3 L860.9,403.8 L860.5,407.1 L857.2,406.8 L854.8,406.1 Z" fill="#111"/>
<path d="M862.9,404.3 L859.7,409.5 L855.3,405.4 L858.6,402.1 Z" fill="#111"/>
<path d="M878.4,407.7 L876.4,411.2 L871.9,409.7 L874.6,405.4 Z" fill="#111"/>
<circle cx="824.8" cy="414.9" r="1.91" fill="#111"/>
<path d="M855.8,414.8 L857.2,419.3 L852.8,418.9 L852.4,415.9 Z" fill="#111"/>
<circle cx="835.9" cy="433.2" r="2.14" fill="#111"/>
<path d="M855.4,434.5 L853.4,432.0 L854.9,430.0 L857.9,431.5 Z" fill="#111"/>
<line x1="864.3" y1="423.3" x2="863.6" y2="427.4" stroke="#111" stroke-width="2.0" stroke-linecap="round"/>
<circle cx="822.5" cy="446.0" r="1.67" fill="#111"/>
<path d="M832.8,441.1 L835.1,439.8 L836.7,441.7 L837.6,443.8 L835.8,445.1 L833.4,445.7 L831.9,443.5 Z" fill="#111"/>
<line x1="858.1" y1="442.7" x2="852.2" y2="443.7" stroke="#111" stroke-width="2.0" stroke-linecap="round"/>
<circle cx="833.1" cy="457.1" r="1.39" fill="#111"/>
<circle cx="813.3" cy="466.1" r="2.11" fill="#111"/>
<circle cx="827.3" cy="462.8" r="1.77" fill="#111"/>
<circle cx="823.9" cy="481.0" r="1.62" fill="#111"/>
<path d="M821.3,487.9 L818.7,492.4 L814.6,488.1 L818.5,484.5 Z" fill="#111"/>
<path d="M51.6,21.9 L98.4,21.9 L107.0,10.3 L106.3,36.5 L110.0,28.0 L115.5,22.5 L137.4,23.1 L158.7,24.0" stroke="#111" stroke-width="3.2" fill="none" stroke-linejoin="round" stroke-linecap="round"/>
<line x1="71.2" y1="22.0" x2="71.2" y2="749.0" stroke="#111" stroke-width="3.4" stroke-linecap="round"/>
<line x1="136.2" y1="23.0" x2="136.2" y2="92.0" stroke="#111" stroke-width="3.0" stroke-linecap="round"/>
<rect x="134.5" y="89.5" width="258.5" height="5.0" fill="#111"/>
<rect x="134.5" y="111.0" width="258.5" height="14.0" fill="#111"/>
<rect x="198.8" y="115.2" width="42.6" height="6.0" fill="#fff"/>
<rect x="293.6" y="115.2" width="42.6" height="6.0" fill="#fff"/>
<rect x="135.0" y="111.0" width="15.2" height="628.0" fill="#111"/>
<rect x="134.5" y="89.5" width="6.5" height="22.0" fill="#111"/>
<rect x="141.0" y="185.6" width="5.0" height="42.4" fill="#fff"/>
<rect x="141.0" y="276.4" width="5.0" height="41.0" fill="#fff"/>
<rect x="141.0" y="368.0" width="5.0" height="41.0" fill="#fff"/>
<rect x="141.0" y="459.0" width="5.0" height="41.0" fill="#fff"/>
<rect x="141.0" y="549.0" width="5.0" height="45.0" fill="#fff"/>
<rect x="141.0" y="641.0" width="5.0" height="44.0" fill="#fff"/>
<path d="M393.0,71.0 L393.0,139.8 L406.7,148.8 L381.7,149.6 L393.0,154.4 L393.0,220.0" stroke="#111" stroke-width="2.8" fill="none" stroke-linejoin="round" stroke-linecap="round"/>
<path d="M393.0,201.5 L318.0,201.5 L218.0,233.5 L217.4,532.0 L392.5,532.0 L392.5,573.0 L319.0,573.0 L217.4,604.5 L217.4,749.0" stroke="#111" stroke-width="4.0" fill="none" stroke-linejoin="round" stroke-linecap="round"/>
<line x1="149.5" y1="129.0" x2="245.0" y2="224.0" stroke="#111" stroke-width="3.0" stroke-linecap="round"/>
<line x1="240.8" y1="125.0" x2="318.0" y2="200.6" stroke="#111" stroke-width="3.0" stroke-linecap="round"/>
<line x1="319.4" y1="125.0" x2="392.0" y2="196.0" stroke="#111" stroke-width="3.0" stroke-linecap="round"/>
<line x1="150.0" y1="222.0" x2="217.0" y2="288.0" stroke="#111" stroke-width="3.0" stroke-linecap="round"/>
<path d="M149.0,339.0 L217.0,315.5" stroke="#111" stroke-width="3.6" fill="none" stroke-linejoin="round" stroke-linecap="round"/>
<line x1="169.0" y1="334.0" x2="217.0" y2="381.0" stroke="#111" stroke-width="3.0" stroke-linecap="round"/>
<line x1="149.0" y1="412.6" x2="217.0" y2="477.0" stroke="#111" stroke-width="3.0" stroke-linecap="round"/>
<line x1="149.0" y1="502.5" x2="217.0" y2="502.5" stroke="#111" stroke-width="3.4" stroke-linecap="round"/>
<line x1="149.0" y1="508.0" x2="238.0" y2="598.0" stroke="#111" stroke-width="3.0" stroke-linecap="round"/>
<line x1="283.0" y1="532.0" x2="318.0" y2="573.0" stroke="#111" stroke-width="3.0" stroke-linecap="round"/>
<line x1="149.0" y1="600.0" x2="217.0" y2="664.0" stroke="#111" stroke-width="3.0" stroke-linecap="round"/>
<line x1="149.0" y1="697.0" x2="206.0" y2="749.0" stroke="#111" stroke-width="3.0" stroke-linecap="round"/>
<path d="M186.0,331.0 L262.0,397.0 L314.0,397.0" stroke="#111" stroke-width="2.4" fill="none" stroke-linejoin="round" stroke-linecap="round"/>
<path d="M44.0,749.0 L137.7,749.0 L143.0,741.0 L145.2,763.5 L152.8,749.5 L246.5,749.5" stroke="#111" stroke-width="3.0" fill="none" stroke-linejoin="round" stroke-linecap="round"/>
<line x1="227.5" y1="235.0" x2="287.4" y2="235.0" stroke="#111" stroke-width="2.0" stroke-linecap="round"/>
<line x1="227.5" y1="315.3" x2="287.4" y2="315.3" stroke="#111" stroke-width="2.0" stroke-linecap="round"/>
<line x1="277.0" y1="226.0" x2="277.0" y2="325.3" stroke="#111" stroke-width="2.0" stroke-linecap="round"/>
<line x1="270.5" y1="229.0" x2="284.5" y2="242.0" stroke="#111" stroke-width="3.6" stroke-linecap="round"/>
<line x1="270.5" y1="309.3" x2="284.5" y2="322.3" stroke="#111" stroke-width="3.6" stroke-linecap="round"/>
<line x1="227.5" y1="606.0" x2="287.4" y2="606.0" stroke="#111" stroke-width="2.0" stroke-linecap="round"/>
<line x1="227.5" y1="686.0" x2="287.4" y2="686.0" stroke="#111" stroke-width="2.0" stroke-linecap="round"/>
<line x1="277.0" y1="597.0" x2="277.0" y2="696.0" stroke="#111" stroke-width="2.0" stroke-linecap="round"/>
<line x1="270.5" y1="600.0" x2="284.5" y2="613.0" stroke="#111" stroke-width="3.6" stroke-linecap="round"/>
<line x1="270.5" y1="680.0" x2="284.5" y2="693.0" stroke="#111" stroke-width="3.6" stroke-linecap="round"/>
<text x="0" y="0" transform="translate(266,278) rotate(-90) scale(0.93,1)" font-family="Liberation Serif" font-size="33.5" text-anchor="middle" fill="#111" stroke="#111" stroke-width="0.6">500</text>
<text x="0" y="0" transform="translate(266.5,645) rotate(-90) scale(0.93,1)" font-family="Liberation Serif" font-size="33.5" text-anchor="middle" fill="#111" stroke="#111" stroke-width="0.6">500</text>
<circle cx="344.2" cy="396" r="28.8" fill="none" stroke="#111" stroke-width="3.4"/>
<line x1="314.0" y1="397.0" x2="374.0" y2="397.0" stroke="#111" stroke-width="2.6" stroke-linecap="round"/>
<text x="342.5" y="393.5" font-family="Liberation Serif" font-size="33" font-weight="bold" text-anchor="middle" fill="#111">1</text>
<rect x="335.7" y="404.5" width="16.0" height="3.6" fill="#111"/>
<text x="13" y="562" font-family="Liberation Serif" font-size="32" stroke="#111" stroke-width="0.8" text-anchor="middle" fill="#111">1</text>
<line x1="23.0" y1="553.4" x2="105.0" y2="553.4" stroke="#111" stroke-width="2.2" stroke-linecap="round"/>
<line x1="342.0" y1="162.7" x2="390.0" y2="266.9" stroke="#111" stroke-width="2.2" stroke-linecap="round"/>
<text x="401.5" y="275.5" font-family="Liberation Serif" font-size="32" stroke="#111" stroke-width="0.8" text-anchor="middle" fill="#111">3</text>
<line x1="356.0" y1="547.5" x2="398.0" y2="634.0" stroke="#111" stroke-width="2.2" stroke-linecap="round"/>
<text x="409.3" y="647.5" font-family="Liberation Serif" font-size="32" stroke="#111" stroke-width="0.8" text-anchor="middle" fill="#111">2</text>
<path d="M609.3,195.4 L708.9,195.4 L718.0,182.4 L717.0,209.7 L725.8,195.4 L827.5,195.4" stroke="#111" stroke-width="3.2" fill="none" stroke-linejoin="round" stroke-linecap="round"/>
<rect x="625.8" y="195.0" width="15.0" height="391.0" fill="#111"/>
<rect x="629.8" y="232.0" width="7.2" height="42.0" fill="#fff"/>
<rect x="629.8" y="323.0" width="7.2" height="42.0" fill="#fff"/>
<rect x="629.8" y="416.0" width="7.2" height="37.4" fill="#fff"/>
<rect x="629.8" y="504.0" width="7.2" height="44.0" fill="#fff"/>
<line x1="810.5" y1="195.0" x2="810.5" y2="586.0" stroke="#111" stroke-width="2.8" stroke-linecap="round"/>
<line x1="815.2" y1="507.5" x2="815.2" y2="586.0" stroke="#111" stroke-width="2.4" stroke-linecap="round"/>
<path d="M607.0,586.1 L710.8,586.1 L720.3,572.9 L719.6,599.2 L727.4,586.1 L834.0,586.1" stroke="#111" stroke-width="3.2" fill="none" stroke-linejoin="round" stroke-linecap="round"/>
<line x1="641.0" y1="239.0" x2="685.0" y2="195.0" stroke="#111" stroke-width="3.0" stroke-linecap="round"/>
<line x1="641.0" y1="304.0" x2="750.0" y2="195.0" stroke="#111" stroke-width="3.0" stroke-linecap="round"/>
<line x1="641.0" y1="368.0" x2="810.0" y2="199.0" stroke="#111" stroke-width="3.0" stroke-linecap="round"/>
<line x1="659.7" y1="414.3" x2="810.0" y2="264.0" stroke="#111" stroke-width="3.0" stroke-linecap="round"/>
<line x1="756.0" y1="382.0" x2="810.0" y2="328.0" stroke="#111" stroke-width="3.0" stroke-linecap="round"/>
<line x1="641.0" y1="546.0" x2="680.5" y2="585.5" stroke="#111" stroke-width="3.0" stroke-linecap="round"/>
<line x1="641.0" y1="483.0" x2="743.4" y2="585.4" stroke="#111" stroke-width="3.0" stroke-linecap="round"/>
<line x1="646.3" y1="424.3" x2="807.5" y2="585.5" stroke="#111" stroke-width="3.0" stroke-linecap="round"/>
<line x1="705.0" y1="420.0" x2="810.0" y2="525.0" stroke="#111" stroke-width="3.0" stroke-linecap="round"/>
<line x1="757.0" y1="406.0" x2="810.0" y2="459.0" stroke="#111" stroke-width="3.0" stroke-linecap="round"/>
<line x1="789.4" y1="376.4" x2="810.0" y2="397.0" stroke="#111" stroke-width="3.0" stroke-linecap="round"/>
<g transform="translate(641.2,420.5) rotate(-18.54)">
<rect x="-1" y="-6.0" width="178.8" height="12.0" rx="4" fill="#111"/>
<rect x="5.0" y="-2.5" width="3.2" height="2.4" rx="1" fill="#d8d8d8" transform="skewX(-17)"/>
<rect x="11.1" y="-1.2" width="1.8" height="3.6" rx="1" fill="#d8d8d8" transform="skewX(-23)"/>
<rect x="14.5" y="-1.1" width="1.5" height="2.3" rx="1" fill="#d8d8d8" transform="skewX(-27)"/>
<rect x="17.4" y="-2.2" width="3.1" height="3.5" rx="1" fill="#d8d8d8" transform="skewX(-20)"/>
<rect x="23.2" y="-1.4" width="3.6" height="3.2" rx="1" fill="#d8d8d8" transform="skewX(-12)"/>
<rect x="29.0" y="-1.6" width="2.6" height="2.7" rx="1" fill="#d8d8d8" transform="skewX(-40)"/>
<rect x="34.2" y="-1.0" width="3.6" height="3.8" rx="1" fill="#d8d8d8" transform="skewX(-33)"/>
<rect x="39.2" y="-1.1" width="3.1" height="3.3" rx="1" fill="#d8d8d8" transform="skewX(-39)"/>
<rect x="45.3" y="-2.0" width="2.0" height="3.5" rx="1" fill="#d8d8d8" transform="skewX(-21)"/>
<rect x="50.0" y="-1.2" width="1.5" height="3.2" rx="1" fill="#d8d8d8" transform="skewX(-39)"/>
<rect x="53.4" y="-1.3" width="1.6" height="3.4" rx="1" fill="#d8d8d8" transform="skewX(-23)"/>
<rect x="56.7" y="-1.6" width="3.7" height="3.2" rx="1" fill="#d8d8d8" transform="skewX(-11)"/>
<rect x="62.1" y="-2.6" width="3.2" height="3.7" rx="1" fill="#d8d8d8" transform="skewX(-26)"/>
<rect x="67.1" y="-1.8" width="2.0" height="3.7" rx="1" fill="#d8d8d8" transform="skewX(-17)"/>
<rect x="72.3" y="-1.3" width="2.9" height="3.2" rx="1" fill="#d8d8d8" transform="skewX(-33)"/>
<rect x="78.0" y="-1.1" width="2.6" height="2.4" rx="1" fill="#d8d8d8" transform="skewX(-31)"/>
<rect x="83.6" y="-1.6" width="3.7" height="3.3" rx="1" fill="#d8d8d8" transform="skewX(-25)"/>
<rect x="88.9" y="-2.4" width="2.9" height="2.9" rx="1" fill="#d8d8d8" transform="skewX(-24)"/>
<rect x="93.3" y="-2.4" width="2.2" height="3.7" rx="1" fill="#d8d8d8" transform="skewX(-31)"/>
<rect x="97.9" y="-1.3" width="2.4" height="3.6" rx="1" fill="#d8d8d8" transform="skewX(-19)"/>
<rect x="102.4" y="-1.1" width="2.3" height="2.9" rx="1" fill="#d8d8d8" transform="skewX(-40)"/>
<rect x="107.3" y="-2.3" width="3.5" height="2.8" rx="1" fill="#d8d8d8" transform="skewX(-29)"/>
<rect x="113.9" y="-1.6" width="1.8" height="3.5" rx="1" fill="#d8d8d8" transform="skewX(-27)"/>
<rect x="117.4" y="-1.3" width="1.8" height="3.0" rx="1" fill="#d8d8d8" transform="skewX(-22)"/>
<rect x="121.7" y="-2.4" width="3.5" height="3.2" rx="1" fill="#d8d8d8" transform="skewX(-31)"/>
<rect x="127.9" y="-1.2" width="1.4" height="3.9" rx="1" fill="#d8d8d8" transform="skewX(-24)"/>
<rect x="130.4" y="-2.5" width="1.2" height="3.0" rx="1" fill="#d8d8d8" transform="skewX(-32)"/>
<rect x="133.7" y="-2.3" width="2.0" height="3.9" rx="1" fill="#d8d8d8" transform="skewX(-24)"/>
<rect x="137.4" y="-1.7" width="2.1" height="3.1" rx="1" fill="#d8d8d8" transform="skewX(-20)"/>
<rect x="142.2" y="-1.3" width="2.0" height="3.1" rx="1" fill="#d8d8d8" transform="skewX(-13)"/>
<rect x="147.1" y="-1.8" width="3.1" height="3.3" rx="1" fill="#d8d8d8" transform="skewX(-23)"/>
<rect x="152.2" y="-1.9" width="3.3" height="2.9" rx="1" fill="#d8d8d8" transform="skewX(-25)"/>
<rect x="157.4" y="-2.4" width="3.7" height="2.3" rx="1" fill="#d8d8d8" transform="skewX(-19)"/>
<rect x="164.2" y="-1.8" width="3.1" height="3.5" rx="1" fill="#d8d8d8" transform="skewX(-30)"/>
</g>
<g transform="translate(733.5,397.5) rotate(-18.54)">
<rect x="0" y="0" width="25" height="10" fill="#fff" stroke="#111" stroke-width="2.6"/>
<line x1="13" y1="0" x2="13" y2="10" stroke="#111" stroke-width="2.2"/>
</g>
<circle cx="697.8" cy="418.3" r="10.5" fill="#111"/>
<circle cx="700" cy="417" r="2.5" fill="#999"/>
<line x1="690.0" y1="424.0" x2="576.0" y2="509.6" stroke="#111" stroke-width="2.2" stroke-linecap="round"/>
<text x="563.2" y="519.5" font-family="Liberation Serif" font-size="32" stroke="#111" stroke-width="0.8" text-anchor="middle" fill="#111">7</text>
<line x1="760.0" y1="404.0" x2="889.0" y2="494.6" stroke="#111" stroke-width="2.2" stroke-linecap="round"/>
<text x="902.5" y="505.5" font-family="Liberation Serif" font-size="32" font-weight="bold" text-anchor="middle" fill="#111">6</text>
<line x1="793.0" y1="377.0" x2="889.0" y2="440.0" stroke="#111" stroke-width="2.2" stroke-linecap="round"/>
<text x="902.5" y="452.5" font-family="Liberation Serif" font-size="32" font-weight="bold" text-anchor="middle" fill="#111">8</text>
<line x1="762.0" y1="566.8" x2="889.0" y2="566.8" stroke="#111" stroke-width="2.2" stroke-linecap="round"/>
<text x="902.5" y="577" font-family="Liberation Serif" font-size="32" font-weight="bold" text-anchor="middle" fill="#111">4</text>
<path d="M810.0,291.2 L918.8,291.2 L935.0,293.5 L950.0,292.5 L969.0,293.0 L980.0,291.2 L1053.6,291.2" stroke="#111" stroke-width="2.8" fill="none" stroke-linejoin="round" stroke-linecap="round"/>
<line x1="819.8" y1="365.2" x2="1053.6" y2="365.2" stroke="#111" stroke-width="2.8" stroke-linecap="round"/>
<path d="M815.0,507.5 L984.5,286.9 L979.4,282.6 L810.0,501.8" stroke="#111" stroke-width="2.4" fill="#fff" stroke-linejoin="round" stroke-linecap="round"/>
<line x1="1038.4" y1="277.6" x2="1038.4" y2="382.0" stroke="#111" stroke-width="2.0" stroke-linecap="round"/>
<line x1="1030.8" y1="283.5" x2="1046.0" y2="297.8" stroke="#111" stroke-width="3.6" stroke-linecap="round"/>
<line x1="1030.8" y1="356.8" x2="1046.0" y2="372.0" stroke="#111" stroke-width="3.6" stroke-linecap="round"/>
<text x="0" y="0" transform="translate(1022.5,316.5) rotate(-90) scale(0.95,1)" font-family="Liberation Serif" font-size="33" font-weight="bold" text-anchor="middle" fill="#111">200</text>
<path d="M1003.7,363.3 L1009.5,342.5 L1012.8,363.3" stroke="#111" stroke-width="2.0" fill="none" stroke-linejoin="round" stroke-linecap="round"/>
<line x1="1015.4" y1="343.0" x2="1021.2" y2="363.3" stroke="#111" stroke-width="1.8" stroke-linecap="round"/>
<line x1="946.0" y1="243.0" x2="874.0" y2="325.0" stroke="#111" stroke-width="2.2" stroke-linecap="round"/>
<text x="954" y="238" font-family="Liberation Serif" font-size="32" font-weight="bold" text-anchor="middle" fill="#111">5</text>
<circle cx="743.4" cy="675.9" r="25.4" fill="none" stroke="#111" stroke-width="3.4"/>
<text x="745.3" y="690" font-family="Liberation Serif" font-size="35" font-weight="bold" text-anchor="middle" fill="#111">1</text>
</svg></body></html>
